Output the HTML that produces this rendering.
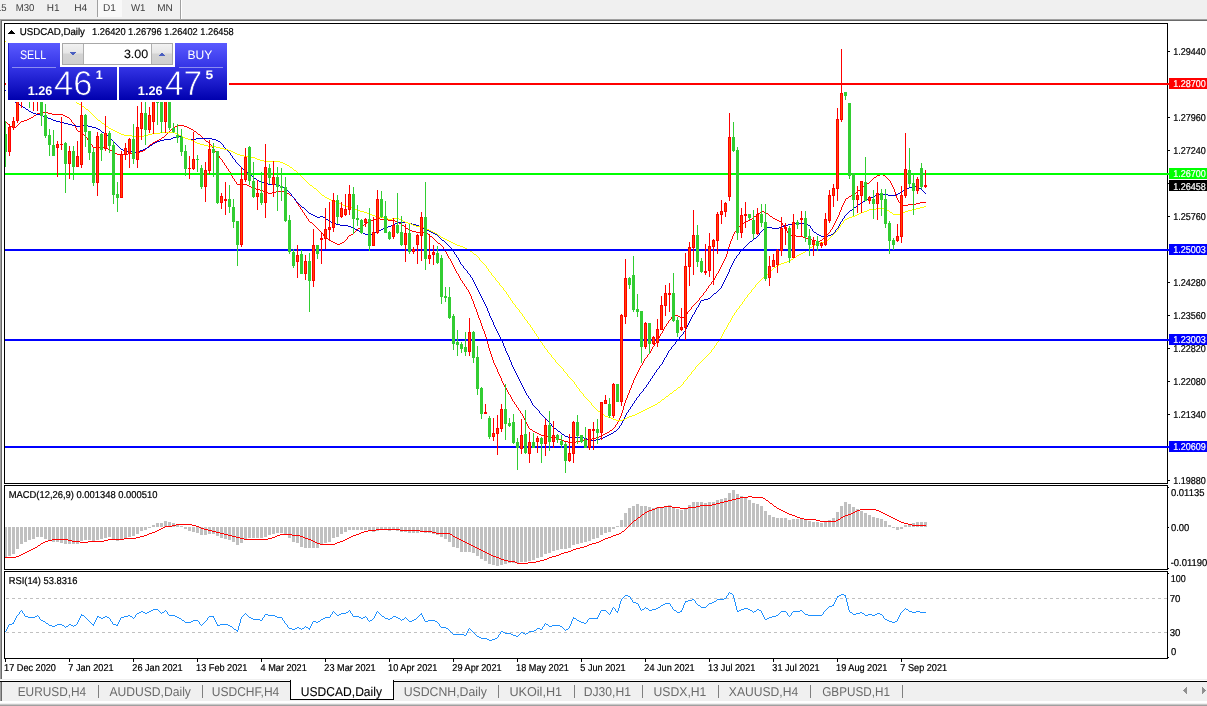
<!DOCTYPE html>
<html><head><meta charset="utf-8"><title>USDCAD,Daily</title>
<style>
html,body{margin:0;padding:0;background:#fff;overflow:hidden}
body{width:1207px;height:706px;position:relative}
svg{position:absolute;left:0;top:0;display:block}
text{font-family:"Liberation Sans", sans-serif;white-space:pre}
</style></head><body>
<svg width="1207" height="706" viewBox="0 0 1207 706" shape-rendering="crispEdges" text-rendering="geometricPrecision">
<rect x="0" y="0" width="1207" height="706" fill="#fff"/>
<rect x="0" y="0" width="1207" height="19" fill="#f0f0f0"/>
<rect x="0" y="19" width="1207" height="1" fill="#a0a0a0"/>
<rect x="0" y="20" width="1207" height="1" fill="#696969"/>
<rect x="0" y="19" width="1" height="661" fill="#a0a0a0"/>
<rect x="1" y="20" width="1" height="660" fill="#696969"/>
<rect x="98" y="0" width="24" height="17" fill="#f9f9f9"/>
<rect x="97" y="0" width="1" height="17" fill="#a0a0a0"/>
<rect x="180" y="0" width="1" height="19" fill="#a0a0a0"/>
<rect x="181" y="0" width="1" height="19" fill="#ffffff"/>
<rect x="4.5" y="23.5" width="1163" height="460" fill="none" stroke="#000" stroke-width="1"/>
<rect x="4.5" y="485.5" width="1163" height="84" fill="none" stroke="#000" stroke-width="1"/>
<rect x="4.5" y="571.5" width="1163" height="87" fill="none" stroke="#000" stroke-width="1"/>
<rect x="0" y="679" width="1207" height="1" fill="#f0f0f0"/>
<rect x="0" y="682" width="1207" height="19" fill="#f0f0f0"/>
<rect x="0" y="681" width="1207" height="1" fill="#000"/>
<rect x="0" y="682" width="1" height="19" fill="#a0a0a0"/>
<rect x="1" y="682" width="1" height="19" fill="#696969"/>
<rect x="0" y="701" width="1207" height="2" fill="#ffffff"/>
<rect x="0" y="703" width="1207" height="1" fill="#f0f0f0"/>
<rect x="0" y="704" width="1207" height="1" fill="#c8c8c8"/>
<rect x="0" y="705" width="1207" height="1" fill="#a0a0a0"/>
<rect x="290.5" y="680.5" width="103" height="19" fill="#fff" stroke="#000"/>
<rect x="291" y="679" width="102" height="3" fill="#fff"/>
<clipPath id="mainclip"><rect x="5" y="24" width="1162" height="459"/></clipPath>
<clipPath id="macdclip"><rect x="5" y="486" width="1162" height="83"/></clipPath>
<clipPath id="rsiclip"><rect x="5" y="572" width="1162" height="86"/></clipPath>
<g clip-path="url(#mainclip)">
<path d="M40 112h8v1h-8zM37 113h3v1h-3zM48 113h4v1h-4zM36 114h1v1h-1zM52 114h11v1h-11zM34 115h2v1h-2zM63 115h2v1h-2zM33 116h1v1h-1zM65 116h2v1h-2zM31 117h2v1h-2zM67 117h2v1h-2zM29 118h2v1h-2zM69 118h1v1h-1zM27 119h2v1h-2zM70 119h1v1h-1zM24 120h3v1h-3zM71 120h1v1h-1zM5 121h1v1h-1zM21 121h3v1h-3zM71 121h1v1h-1zM6 122h1v1h-1zM20 122h1v1h-1zM72 122h1v1h-1zM7 123h1v1h-1zM19 123h1v1h-1zM73 123h1v1h-1zM8 124h1v1h-1zM18 124h1v1h-1zM74 124h1v1h-1zM9 125h1v1h-1zM17 125h1v1h-1zM74 125h1v1h-1zM177 125h7v1h-7zM10 126h2v1h-2zM16 126h1v1h-1zM75 126h1v1h-1zM175 126h2v1h-2zM184 126h3v1h-3zM12 127h1v1h-1zM14 127h2v1h-2zM75 127h1v1h-1zM173 127h2v1h-2zM187 127h2v1h-2zM13 128h1v1h-1zM76 128h1v1h-1zM172 128h1v1h-1zM189 128h2v1h-2zM76 129h1v1h-1zM171 129h1v1h-1zM191 129h2v1h-2zM77 130h1v1h-1zM170 130h1v1h-1zM193 130h1v1h-1zM78 131h2v1h-2zM169 131h1v1h-1zM194 131h2v1h-2zM80 132h1v1h-1zM168 132h1v1h-1zM196 132h1v1h-1zM81 133h1v1h-1zM167 133h1v1h-1zM197 133h1v1h-1zM82 134h2v1h-2zM166 134h1v1h-1zM198 134h2v1h-2zM84 135h1v1h-1zM165 135h1v1h-1zM200 135h1v1h-1zM85 136h1v1h-1zM164 136h1v1h-1zM201 136h1v1h-1zM86 137h1v1h-1zM162 137h2v1h-2zM202 137h1v1h-1zM87 138h1v1h-1zM161 138h1v1h-1zM203 138h1v1h-1zM87 139h1v1h-1zM159 139h2v1h-2zM204 139h1v1h-1zM88 140h1v1h-1zM157 140h2v1h-2zM205 140h1v1h-1zM89 141h1v1h-1zM155 141h2v1h-2zM206 141h2v1h-2zM90 142h1v1h-1zM153 142h2v1h-2zM208 142h1v1h-1zM90 143h1v1h-1zM152 143h1v1h-1zM209 143h1v1h-1zM91 144h1v1h-1zM150 144h2v1h-2zM210 144h1v1h-1zM92 145h1v1h-1zM149 145h1v1h-1zM211 145h1v1h-1zM92 146h1v1h-1zM148 146h1v1h-1zM211 146h1v1h-1zM93 147h11v1h-11zM147 147h1v1h-1zM212 147h1v1h-1zM104 148h4v1h-4zM146 148h1v1h-1zM213 148h1v1h-1zM108 149h2v1h-2zM145 149h1v1h-1zM214 149h1v1h-1zM110 150h2v1h-2zM143 150h2v1h-2zM214 150h1v1h-1zM112 151h1v1h-1zM140 151h3v1h-3zM215 151h1v1h-1zM113 152h2v1h-2zM132 152h8v1h-8zM216 152h1v1h-1zM115 153h2v1h-2zM128 153h4v1h-4zM216 153h1v1h-1zM117 154h11v1h-11zM217 154h1v1h-1zM218 155h1v1h-1zM219 156h1v1h-1zM219 157h1v1h-1zM220 158h1v1h-1zM221 159h1v1h-1zM222 160h1v1h-1zM222 161h1v1h-1zM223 162h1v1h-1zM224 163h1v1h-1zM224 164h1v1h-1zM225 165h1v1h-1zM226 166h1v1h-1zM226 167h1v1h-1zM227 168h1v1h-1zM228 169h1v1h-1zM228 170h1v1h-1zM229 171h1v1h-1zM230 172h1v1h-1zM230 173h1v1h-1zM231 174h1v1h-1zM880 174h3v1h-3zM231 175h1v1h-1zM877 175h3v1h-3zM883 175h2v1h-2zM232 176h1v1h-1zM876 176h1v1h-1zM885 176h1v1h-1zM232 177h1v1h-1zM874 177h2v1h-2zM886 177h1v1h-1zM233 178h1v1h-1zM873 178h1v1h-1zM887 178h1v1h-1zM234 179h1v1h-1zM872 179h1v1h-1zM888 179h1v1h-1zM234 180h1v1h-1zM871 180h1v1h-1zM889 180h1v1h-1zM235 181h1v1h-1zM870 181h1v1h-1zM890 181h1v1h-1zM236 182h1v1h-1zM869 182h1v1h-1zM890 182h1v1h-1zM236 183h1v1h-1zM867 183h2v1h-2zM891 183h1v1h-1zM237 184h10v1h-10zM865 184h2v1h-2zM891 184h1v1h-1zM247 185h2v1h-2zM864 185h1v1h-1zM892 185h1v1h-1zM249 186h2v1h-2zM863 186h1v1h-1zM892 186h1v1h-1zM251 187h2v1h-2zM862 187h1v1h-1zM893 187h1v1h-1zM253 188h3v1h-3zM861 188h1v1h-1zM893 188h1v1h-1zM256 189h4v1h-4zM860 189h1v1h-1zM894 189h1v1h-1zM260 190h3v1h-3zM858 190h2v1h-2zM894 190h1v1h-1zM263 191h2v1h-2zM276 191h8v1h-8zM857 191h1v1h-1zM894 191h1v1h-1zM265 192h3v1h-3zM272 192h4v1h-4zM284 192h3v1h-3zM856 192h1v1h-1zM895 192h1v1h-1zM268 193h4v1h-4zM287 193h2v1h-2zM854 193h2v1h-2zM895 193h1v1h-1zM289 194h1v1h-1zM853 194h1v1h-1zM895 194h1v1h-1zM290 195h2v1h-2zM851 195h2v1h-2zM896 195h1v1h-1zM292 196h1v1h-1zM849 196h2v1h-2zM896 196h1v1h-1zM293 197h1v1h-1zM848 197h1v1h-1zM896 197h1v1h-1zM294 198h1v1h-1zM846 198h2v1h-2zM897 198h1v1h-1zM294 199h1v1h-1zM845 199h1v1h-1zM897 199h1v1h-1zM295 200h1v1h-1zM845 200h1v1h-1zM898 200h1v1h-1zM296 201h1v1h-1zM844 201h1v1h-1zM898 201h1v1h-1zM296 202h1v1h-1zM844 202h1v1h-1zM899 202h1v1h-1zM920 202h6v1h-6zM297 203h1v1h-1zM843 203h1v1h-1zM900 203h1v1h-1zM916 203h4v1h-4zM298 204h1v1h-1zM843 204h1v1h-1zM900 204h1v1h-1zM908 204h8v1h-8zM298 205h1v1h-1zM842 205h1v1h-1zM901 205h7v1h-7zM299 206h1v1h-1zM842 206h1v1h-1zM300 207h1v1h-1zM841 207h1v1h-1zM300 208h1v1h-1zM841 208h1v1h-1zM301 209h1v1h-1zM841 209h1v1h-1zM302 210h1v1h-1zM840 210h1v1h-1zM302 211h1v1h-1zM761 211h3v1h-3zM840 211h1v1h-1zM303 212h1v1h-1zM760 212h1v1h-1zM764 212h2v1h-2zM839 212h1v1h-1zM304 213h1v1h-1zM758 213h2v1h-2zM766 213h2v1h-2zM839 213h1v1h-1zM304 214h1v1h-1zM757 214h1v1h-1zM768 214h1v1h-1zM839 214h1v1h-1zM305 215h1v1h-1zM756 215h1v1h-1zM769 215h1v1h-1zM838 215h1v1h-1zM306 216h1v1h-1zM754 216h2v1h-2zM770 216h2v1h-2zM838 216h1v1h-1zM306 217h1v1h-1zM753 217h1v1h-1zM772 217h1v1h-1zM837 217h1v1h-1zM307 218h1v1h-1zM376 218h4v1h-4zM752 218h1v1h-1zM773 218h2v1h-2zM837 218h1v1h-1zM308 219h1v1h-1zM373 219h3v1h-3zM380 219h8v1h-8zM750 219h2v1h-2zM775 219h2v1h-2zM836 219h1v1h-1zM308 220h1v1h-1zM371 220h2v1h-2zM388 220h7v1h-7zM748 220h2v1h-2zM777 220h2v1h-2zM836 220h1v1h-1zM309 221h1v1h-1zM369 221h2v1h-2zM395 221h2v1h-2zM745 221h3v1h-3zM779 221h2v1h-2zM835 221h1v1h-1zM310 222h2v1h-2zM367 222h2v1h-2zM397 222h2v1h-2zM744 222h1v1h-1zM781 222h1v1h-1zM835 222h1v1h-1zM312 223h1v1h-1zM365 223h2v1h-2zM399 223h2v1h-2zM742 223h2v1h-2zM782 223h1v1h-1zM834 223h1v1h-1zM313 224h1v1h-1zM364 224h1v1h-1zM401 224h1v1h-1zM741 224h1v1h-1zM782 224h1v1h-1zM834 224h1v1h-1zM314 225h1v1h-1zM362 225h2v1h-2zM402 225h2v1h-2zM740 225h1v1h-1zM783 225h1v1h-1zM833 225h1v1h-1zM315 226h1v1h-1zM361 226h1v1h-1zM404 226h1v1h-1zM739 226h1v1h-1zM784 226h1v1h-1zM833 226h1v1h-1zM316 227h1v1h-1zM360 227h1v1h-1zM405 227h1v1h-1zM738 227h1v1h-1zM784 227h1v1h-1zM832 227h1v1h-1zM317 228h1v1h-1zM358 228h2v1h-2zM406 228h2v1h-2zM737 228h1v1h-1zM785 228h1v1h-1zM832 228h1v1h-1zM318 229h1v1h-1zM357 229h1v1h-1zM408 229h1v1h-1zM736 229h1v1h-1zM786 229h1v1h-1zM831 229h1v1h-1zM319 230h1v1h-1zM356 230h1v1h-1zM409 230h3v1h-3zM736 230h1v1h-1zM786 230h1v1h-1zM830 230h1v1h-1zM320 231h1v1h-1zM355 231h1v1h-1zM412 231h4v1h-4zM735 231h1v1h-1zM787 231h1v1h-1zM830 231h1v1h-1zM321 232h1v1h-1zM354 232h1v1h-1zM416 232h10v1h-10zM734 232h1v1h-1zM787 232h1v1h-1zM829 232h1v1h-1zM322 233h1v1h-1zM353 233h1v1h-1zM426 233h2v1h-2zM734 233h1v1h-1zM788 233h1v1h-1zM828 233h1v1h-1zM323 234h1v1h-1zM351 234h2v1h-2zM428 234h1v1h-1zM733 234h1v1h-1zM788 234h1v1h-1zM827 234h1v1h-1zM323 235h1v1h-1zM349 235h2v1h-2zM429 235h1v1h-1zM733 235h1v1h-1zM789 235h7v1h-7zM826 235h1v1h-1zM324 236h1v1h-1zM348 236h1v1h-1zM430 236h2v1h-2zM732 236h1v1h-1zM796 236h7v1h-7zM825 236h1v1h-1zM325 237h1v1h-1zM347 237h1v1h-1zM432 237h1v1h-1zM732 237h1v1h-1zM803 237h2v1h-2zM824 237h1v1h-1zM326 238h2v1h-2zM347 238h1v1h-1zM433 238h1v1h-1zM732 238h1v1h-1zM805 238h3v1h-3zM823 238h1v1h-1zM328 239h1v1h-1zM346 239h1v1h-1zM434 239h1v1h-1zM731 239h1v1h-1zM808 239h4v1h-4zM822 239h1v1h-1zM329 240h2v1h-2zM345 240h1v1h-1zM435 240h1v1h-1zM731 240h1v1h-1zM812 240h4v1h-4zM820 240h2v1h-2zM331 241h2v1h-2zM344 241h1v1h-1zM436 241h1v1h-1zM730 241h1v1h-1zM816 241h4v1h-4zM333 242h2v1h-2zM342 242h2v1h-2zM437 242h1v1h-1zM730 242h1v1h-1zM335 243h2v1h-2zM340 243h2v1h-2zM438 243h2v1h-2zM730 243h1v1h-1zM337 244h3v1h-3zM440 244h1v1h-1zM729 244h1v1h-1zM441 245h1v1h-1zM729 245h1v1h-1zM442 246h1v1h-1zM729 246h1v1h-1zM443 247h1v1h-1zM728 247h1v1h-1zM443 248h1v1h-1zM728 248h1v1h-1zM444 249h1v1h-1zM728 249h1v1h-1zM445 250h1v1h-1zM727 250h1v1h-1zM445 251h1v1h-1zM727 251h1v1h-1zM446 252h1v1h-1zM727 252h1v1h-1zM446 253h1v1h-1zM727 253h1v1h-1zM447 254h1v1h-1zM726 254h1v1h-1zM447 255h1v1h-1zM726 255h1v1h-1zM448 256h1v1h-1zM726 256h1v1h-1zM448 257h1v1h-1zM725 257h1v1h-1zM449 258h1v1h-1zM725 258h1v1h-1zM450 259h1v1h-1zM724 259h1v1h-1zM450 260h1v1h-1zM724 260h1v1h-1zM451 261h1v1h-1zM723 261h1v1h-1zM451 262h1v1h-1zM723 262h1v1h-1zM452 263h1v1h-1zM722 263h1v1h-1zM452 264h1v1h-1zM722 264h1v1h-1zM453 265h1v1h-1zM721 265h1v1h-1zM453 266h1v1h-1zM721 266h1v1h-1zM454 267h1v1h-1zM720 267h1v1h-1zM454 268h1v1h-1zM720 268h1v1h-1zM455 269h1v1h-1zM719 269h1v1h-1zM455 270h1v1h-1zM719 270h1v1h-1zM456 271h1v1h-1zM718 271h1v1h-1zM456 272h1v1h-1zM718 272h1v1h-1zM457 273h1v1h-1zM717 273h1v1h-1zM458 274h1v1h-1zM716 274h1v1h-1zM458 275h1v1h-1zM716 275h1v1h-1zM459 276h1v1h-1zM715 276h1v1h-1zM459 277h1v1h-1zM715 277h1v1h-1zM460 278h1v1h-1zM714 278h1v1h-1zM460 279h1v1h-1zM714 279h1v1h-1zM461 280h1v1h-1zM713 280h1v1h-1zM462 281h1v1h-1zM712 281h1v1h-1zM462 282h1v1h-1zM711 282h1v1h-1zM463 283h1v1h-1zM711 283h1v1h-1zM464 284h1v1h-1zM710 284h1v1h-1zM464 285h1v1h-1zM709 285h1v1h-1zM465 286h1v1h-1zM708 286h1v1h-1zM466 287h1v1h-1zM708 287h1v1h-1zM466 288h1v1h-1zM707 288h1v1h-1zM467 289h1v1h-1zM706 289h1v1h-1zM468 290h1v1h-1zM706 290h1v1h-1zM468 291h1v1h-1zM705 291h1v1h-1zM469 292h1v1h-1zM704 292h1v1h-1zM469 293h1v1h-1zM703 293h1v1h-1zM470 294h1v1h-1zM703 294h1v1h-1zM470 295h1v1h-1zM702 295h1v1h-1zM471 296h1v1h-1zM701 296h1v1h-1zM471 297h1v1h-1zM700 297h1v1h-1zM471 298h1v1h-1zM699 298h1v1h-1zM472 299h1v1h-1zM699 299h1v1h-1zM472 300h1v1h-1zM698 300h1v1h-1zM473 301h1v1h-1zM697 301h1v1h-1zM473 302h1v1h-1zM696 302h1v1h-1zM473 303h1v1h-1zM695 303h1v1h-1zM474 304h1v1h-1zM694 304h1v1h-1zM474 305h1v1h-1zM693 305h1v1h-1zM474 306h1v1h-1zM692 306h1v1h-1zM475 307h1v1h-1zM691 307h1v1h-1zM475 308h1v1h-1zM691 308h1v1h-1zM476 309h1v1h-1zM690 309h1v1h-1zM476 310h1v1h-1zM689 310h1v1h-1zM476 311h1v1h-1zM688 311h1v1h-1zM477 312h1v1h-1zM687 312h1v1h-1zM477 313h1v1h-1zM687 313h1v1h-1zM477 314h1v1h-1zM686 314h1v1h-1zM478 315h1v1h-1zM673 315h5v1h-5zM685 315h1v1h-1zM478 316h1v1h-1zM672 316h1v1h-1zM678 316h2v1h-2zM684 316h1v1h-1zM478 317h1v1h-1zM671 317h1v1h-1zM680 317h1v1h-1zM682 317h2v1h-2zM479 318h1v1h-1zM671 318h1v1h-1zM681 318h1v1h-1zM479 319h1v1h-1zM670 319h1v1h-1zM480 320h1v1h-1zM669 320h1v1h-1zM480 321h1v1h-1zM668 321h1v1h-1zM480 322h1v1h-1zM668 322h1v1h-1zM481 323h1v1h-1zM667 323h1v1h-1zM481 324h1v1h-1zM666 324h1v1h-1zM481 325h1v1h-1zM666 325h1v1h-1zM482 326h1v1h-1zM665 326h1v1h-1zM482 327h1v1h-1zM664 327h1v1h-1zM482 328h1v1h-1zM664 328h1v1h-1zM483 329h1v1h-1zM663 329h1v1h-1zM483 330h1v1h-1zM663 330h1v1h-1zM484 331h1v1h-1zM662 331h1v1h-1zM484 332h1v1h-1zM662 332h1v1h-1zM484 333h1v1h-1zM661 333h1v1h-1zM485 334h1v1h-1zM660 334h1v1h-1zM485 335h1v1h-1zM660 335h1v1h-1zM485 336h1v1h-1zM659 336h1v1h-1zM486 337h1v1h-1zM659 337h1v1h-1zM486 338h1v1h-1zM658 338h1v1h-1zM486 339h1v1h-1zM658 339h1v1h-1zM486 340h1v1h-1zM657 340h1v1h-1zM487 341h1v1h-1zM656 341h1v1h-1zM487 342h1v1h-1zM656 342h1v1h-1zM487 343h1v1h-1zM655 343h1v1h-1zM488 344h1v1h-1zM654 344h1v1h-1zM488 345h1v1h-1zM654 345h1v1h-1zM488 346h1v1h-1zM653 346h1v1h-1zM488 347h1v1h-1zM652 347h1v1h-1zM489 348h1v1h-1zM652 348h1v1h-1zM489 349h1v1h-1zM651 349h1v1h-1zM489 350h1v1h-1zM651 350h1v1h-1zM490 351h1v1h-1zM650 351h1v1h-1zM490 352h1v1h-1zM650 352h1v1h-1zM490 353h1v1h-1zM649 353h1v1h-1zM491 354h1v1h-1zM648 354h1v1h-1zM491 355h1v1h-1zM647 355h1v1h-1zM491 356h1v1h-1zM647 356h1v1h-1zM492 357h1v1h-1zM646 357h1v1h-1zM492 358h1v1h-1zM645 358h1v1h-1zM492 359h1v1h-1zM644 359h1v1h-1zM493 360h1v1h-1zM644 360h1v1h-1zM493 361h1v1h-1zM643 361h1v1h-1zM493 362h1v1h-1zM643 362h1v1h-1zM494 363h1v1h-1zM642 363h1v1h-1zM494 364h1v1h-1zM642 364h1v1h-1zM495 365h1v1h-1zM641 365h1v1h-1zM495 366h1v1h-1zM640 366h1v1h-1zM496 367h1v1h-1zM640 367h1v1h-1zM496 368h1v1h-1zM639 368h1v1h-1zM497 369h1v1h-1zM639 369h1v1h-1zM497 370h1v1h-1zM638 370h1v1h-1zM497 371h1v1h-1zM638 371h1v1h-1zM498 372h1v1h-1zM637 372h1v1h-1zM498 373h1v1h-1zM637 373h1v1h-1zM499 374h1v1h-1zM636 374h1v1h-1zM499 375h1v1h-1zM636 375h1v1h-1zM500 376h1v1h-1zM635 376h1v1h-1zM500 377h1v1h-1zM635 377h1v1h-1zM501 378h1v1h-1zM634 378h1v1h-1zM501 379h1v1h-1zM634 379h1v1h-1zM501 380h1v1h-1zM633 380h1v1h-1zM502 381h1v1h-1zM633 381h1v1h-1zM502 382h1v1h-1zM633 382h1v1h-1zM503 383h1v1h-1zM632 383h1v1h-1zM503 384h1v1h-1zM632 384h1v1h-1zM504 385h1v1h-1zM631 385h1v1h-1zM504 386h1v1h-1zM631 386h1v1h-1zM505 387h1v1h-1zM631 387h1v1h-1zM506 388h1v1h-1zM630 388h1v1h-1zM506 389h1v1h-1zM630 389h1v1h-1zM507 390h1v1h-1zM629 390h1v1h-1zM507 391h1v1h-1zM629 391h1v1h-1zM508 392h1v1h-1zM629 392h1v1h-1zM508 393h1v1h-1zM628 393h1v1h-1zM509 394h1v1h-1zM628 394h1v1h-1zM510 395h1v1h-1zM627 395h1v1h-1zM510 396h1v1h-1zM627 396h1v1h-1zM511 397h1v1h-1zM627 397h1v1h-1zM511 398h1v1h-1zM626 398h1v1h-1zM512 399h1v1h-1zM626 399h1v1h-1zM512 400h1v1h-1zM625 400h1v1h-1zM513 401h1v1h-1zM625 401h1v1h-1zM514 402h1v1h-1zM625 402h1v1h-1zM514 403h1v1h-1zM624 403h1v1h-1zM515 404h1v1h-1zM624 404h1v1h-1zM516 405h1v1h-1zM624 405h1v1h-1zM516 406h1v1h-1zM623 406h1v1h-1zM517 407h1v1h-1zM623 407h1v1h-1zM518 408h1v1h-1zM623 408h1v1h-1zM518 409h1v1h-1zM623 409h1v1h-1zM519 410h1v1h-1zM622 410h1v1h-1zM520 411h1v1h-1zM622 411h1v1h-1zM520 412h1v1h-1zM622 412h1v1h-1zM521 413h1v1h-1zM621 413h1v1h-1zM522 414h1v1h-1zM621 414h1v1h-1zM522 415h1v1h-1zM621 415h1v1h-1zM523 416h1v1h-1zM620 416h1v1h-1zM523 417h1v1h-1zM620 417h1v1h-1zM524 418h1v1h-1zM619 418h1v1h-1zM524 419h1v1h-1zM619 419h1v1h-1zM525 420h1v1h-1zM618 420h1v1h-1zM525 421h1v1h-1zM618 421h1v1h-1zM526 422h1v1h-1zM617 422h1v1h-1zM526 423h1v1h-1zM617 423h1v1h-1zM527 424h1v1h-1zM616 424h1v1h-1zM527 425h1v1h-1zM615 425h1v1h-1zM528 426h1v1h-1zM615 426h1v1h-1zM528 427h1v1h-1zM614 427h1v1h-1zM529 428h1v1h-1zM613 428h1v1h-1zM530 429h2v1h-2zM612 429h1v1h-1zM532 430h1v1h-1zM610 430h2v1h-2zM533 431h2v1h-2zM609 431h1v1h-1zM535 432h2v1h-2zM607 432h2v1h-2zM537 433h2v1h-2zM605 433h2v1h-2zM539 434h2v1h-2zM603 434h2v1h-2zM541 435h3v1h-3zM601 435h2v1h-2zM544 436h4v1h-4zM599 436h2v1h-2zM548 437h8v1h-8zM596 437h3v1h-3zM556 438h3v1h-3zM592 438h4v1h-4zM559 439h2v1h-2zM584 439h8v1h-8zM561 440h3v1h-3zM580 440h4v1h-4zM564 441h4v1h-4zM576 441h4v1h-4zM568 442h8v1h-8z" fill="#ff0000"/>
<path d="M5 90h1v1h-1zM6 91h1v1h-1zM7 92h1v1h-1zM7 93h1v1h-1zM8 94h1v1h-1zM9 95h1v1h-1zM10 96h1v1h-1zM10 97h1v1h-1zM11 98h1v1h-1zM12 99h1v1h-1zM12 100h1v1h-1zM13 101h2v1h-2zM15 102h2v1h-2zM17 103h1v1h-1zM18 104h2v1h-2zM20 105h1v1h-1zM21 106h2v1h-2zM23 107h2v1h-2zM25 108h1v1h-1zM26 109h2v1h-2zM28 110h1v1h-1zM29 111h2v1h-2zM31 112h2v1h-2zM33 113h3v1h-3zM36 114h4v1h-4zM40 115h3v1h-3zM43 116h2v1h-2zM45 117h3v1h-3zM48 118h3v1h-3zM51 119h2v1h-2zM53 120h3v1h-3zM56 121h4v1h-4zM60 122h4v1h-4zM64 123h4v1h-4zM68 124h4v1h-4zM72 125h4v1h-4zM80 125h8v1h-8zM76 126h4v1h-4zM88 126h4v1h-4zM92 127h4v1h-4zM96 128h2v1h-2zM98 129h2v1h-2zM100 130h1v1h-1zM101 131h1v1h-1zM102 132h2v1h-2zM104 133h1v1h-1zM105 134h1v1h-1zM106 135h2v1h-2zM108 136h1v1h-1zM176 136h7v1h-7zM109 137h1v1h-1zM173 137h3v1h-3zM183 137h2v1h-2zM110 138h1v1h-1zM171 138h2v1h-2zM185 138h3v1h-3zM196 138h16v1h-16zM111 139h1v1h-1zM164 139h7v1h-7zM188 139h8v1h-8zM212 139h4v1h-4zM112 140h1v1h-1zM160 140h4v1h-4zM216 140h2v1h-2zM113 141h1v1h-1zM157 141h3v1h-3zM218 141h2v1h-2zM114 142h1v1h-1zM155 142h2v1h-2zM220 142h1v1h-1zM115 143h1v1h-1zM153 143h2v1h-2zM221 143h1v1h-1zM116 144h1v1h-1zM152 144h1v1h-1zM222 144h1v1h-1zM117 145h1v1h-1zM150 145h2v1h-2zM223 145h1v1h-1zM118 146h1v1h-1zM149 146h1v1h-1zM223 146h1v1h-1zM119 147h1v1h-1zM147 147h2v1h-2zM224 147h1v1h-1zM120 148h1v1h-1zM145 148h2v1h-2zM225 148h1v1h-1zM121 149h2v1h-2zM143 149h2v1h-2zM226 149h1v1h-1zM123 150h2v1h-2zM140 150h3v1h-3zM227 150h1v1h-1zM125 151h7v1h-7zM136 151h4v1h-4zM228 151h1v1h-1zM132 152h4v1h-4zM229 152h1v1h-1zM230 153h1v1h-1zM230 154h1v1h-1zM231 155h1v1h-1zM232 156h1v1h-1zM232 157h1v1h-1zM233 158h1v1h-1zM234 159h1v1h-1zM235 160h1v1h-1zM235 161h1v1h-1zM236 162h1v1h-1zM237 163h1v1h-1zM238 164h1v1h-1zM239 165h1v1h-1zM240 166h1v1h-1zM241 167h1v1h-1zM242 168h1v1h-1zM243 169h1v1h-1zM244 170h1v1h-1zM245 171h1v1h-1zM246 172h2v1h-2zM248 173h1v1h-1zM249 174h1v1h-1zM250 175h2v1h-2zM252 176h1v1h-1zM253 177h1v1h-1zM254 178h2v1h-2zM256 179h1v1h-1zM257 180h2v1h-2zM259 181h2v1h-2zM261 182h3v1h-3zM264 183h4v1h-4zM268 184h8v1h-8zM276 185h4v1h-4zM280 186h2v1h-2zM912 186h4v1h-4zM282 187h2v1h-2zM909 187h3v1h-3zM916 187h3v1h-3zM284 188h1v1h-1zM907 188h2v1h-2zM919 188h2v1h-2zM285 189h1v1h-1zM905 189h2v1h-2zM921 189h1v1h-1zM286 190h2v1h-2zM903 190h2v1h-2zM922 190h1v1h-1zM288 191h1v1h-1zM901 191h2v1h-2zM923 191h1v1h-1zM289 192h1v1h-1zM900 192h1v1h-1zM924 192h1v1h-1zM290 193h1v1h-1zM898 193h2v1h-2zM925 193h1v1h-1zM291 194h1v1h-1zM877 194h11v1h-11zM896 194h2v1h-2zM291 195h1v1h-1zM875 195h2v1h-2zM888 195h8v1h-8zM292 196h1v1h-1zM873 196h2v1h-2zM293 197h1v1h-1zM871 197h2v1h-2zM294 198h1v1h-1zM869 198h2v1h-2zM295 199h1v1h-1zM867 199h2v1h-2zM295 200h1v1h-1zM865 200h2v1h-2zM296 201h1v1h-1zM863 201h2v1h-2zM297 202h1v1h-1zM861 202h2v1h-2zM298 203h1v1h-1zM860 203h1v1h-1zM299 204h1v1h-1zM858 204h2v1h-2zM300 205h1v1h-1zM857 205h1v1h-1zM301 206h1v1h-1zM856 206h1v1h-1zM302 207h2v1h-2zM854 207h2v1h-2zM304 208h1v1h-1zM853 208h1v1h-1zM305 209h1v1h-1zM852 209h1v1h-1zM306 210h1v1h-1zM850 210h2v1h-2zM307 211h1v1h-1zM849 211h1v1h-1zM308 212h1v1h-1zM848 212h1v1h-1zM309 213h2v1h-2zM847 213h1v1h-1zM311 214h2v1h-2zM846 214h1v1h-1zM313 215h2v1h-2zM845 215h1v1h-1zM315 216h2v1h-2zM320 216h3v1h-3zM844 216h1v1h-1zM317 217h3v1h-3zM323 217h2v1h-2zM844 217h1v1h-1zM325 218h1v1h-1zM843 218h1v1h-1zM326 219h2v1h-2zM842 219h1v1h-1zM328 220h1v1h-1zM842 220h1v1h-1zM329 221h2v1h-2zM841 221h1v1h-1zM331 222h2v1h-2zM397 222h11v1h-11zM840 222h1v1h-1zM333 223h3v1h-3zM395 223h2v1h-2zM408 223h4v1h-4zM792 223h12v1h-12zM840 223h1v1h-1zM336 224h4v1h-4zM393 224h2v1h-2zM412 224h4v1h-4zM788 224h4v1h-4zM804 224h4v1h-4zM839 224h1v1h-1zM340 225h8v1h-8zM391 225h2v1h-2zM416 225h3v1h-3zM784 225h4v1h-4zM808 225h2v1h-2zM839 225h1v1h-1zM348 226h3v1h-3zM388 226h3v1h-3zM419 226h2v1h-2zM781 226h3v1h-3zM810 226h1v1h-1zM838 226h1v1h-1zM351 227h2v1h-2zM385 227h3v1h-3zM421 227h2v1h-2zM765 227h7v1h-7zM779 227h2v1h-2zM810 227h1v1h-1zM838 227h1v1h-1zM353 228h2v1h-2zM383 228h2v1h-2zM423 228h2v1h-2zM764 228h1v1h-1zM772 228h7v1h-7zM811 228h1v1h-1zM837 228h1v1h-1zM355 229h2v1h-2zM381 229h2v1h-2zM425 229h2v1h-2zM763 229h1v1h-1zM812 229h1v1h-1zM836 229h1v1h-1zM357 230h2v1h-2zM379 230h2v1h-2zM427 230h2v1h-2zM762 230h1v1h-1zM812 230h1v1h-1zM835 230h1v1h-1zM359 231h2v1h-2zM377 231h2v1h-2zM429 231h2v1h-2zM761 231h1v1h-1zM813 231h1v1h-1zM835 231h1v1h-1zM361 232h2v1h-2zM375 232h2v1h-2zM431 232h2v1h-2zM760 232h1v1h-1zM814 232h2v1h-2zM834 232h1v1h-1zM363 233h2v1h-2zM372 233h3v1h-3zM433 233h2v1h-2zM759 233h1v1h-1zM816 233h1v1h-1zM833 233h1v1h-1zM365 234h7v1h-7zM435 234h2v1h-2zM759 234h1v1h-1zM817 234h2v1h-2zM831 234h2v1h-2zM437 235h1v1h-1zM758 235h1v1h-1zM819 235h2v1h-2zM828 235h3v1h-3zM438 236h1v1h-1zM757 236h1v1h-1zM821 236h7v1h-7zM439 237h1v1h-1zM756 237h1v1h-1zM440 238h1v1h-1zM754 238h2v1h-2zM441 239h1v1h-1zM753 239h1v1h-1zM442 240h2v1h-2zM752 240h1v1h-1zM444 241h1v1h-1zM750 241h2v1h-2zM445 242h1v1h-1zM749 242h1v1h-1zM446 243h1v1h-1zM748 243h1v1h-1zM447 244h1v1h-1zM747 244h1v1h-1zM448 245h1v1h-1zM746 245h1v1h-1zM449 246h1v1h-1zM745 246h1v1h-1zM450 247h1v1h-1zM744 247h1v1h-1zM451 248h1v1h-1zM743 248h1v1h-1zM451 249h1v1h-1zM742 249h1v1h-1zM452 250h1v1h-1zM741 250h1v1h-1zM453 251h1v1h-1zM740 251h1v1h-1zM454 252h1v1h-1zM739 252h1v1h-1zM454 253h1v1h-1zM739 253h1v1h-1zM455 254h1v1h-1zM738 254h1v1h-1zM456 255h1v1h-1zM737 255h1v1h-1zM456 256h1v1h-1zM736 256h1v1h-1zM457 257h1v1h-1zM736 257h1v1h-1zM458 258h1v1h-1zM735 258h1v1h-1zM458 259h1v1h-1zM734 259h1v1h-1zM459 260h1v1h-1zM734 260h1v1h-1zM459 261h1v1h-1zM733 261h1v1h-1zM460 262h1v1h-1zM733 262h1v1h-1zM460 263h1v1h-1zM732 263h1v1h-1zM461 264h1v1h-1zM732 264h1v1h-1zM462 265h1v1h-1zM731 265h1v1h-1zM463 266h1v1h-1zM731 266h1v1h-1zM463 267h1v1h-1zM730 267h1v1h-1zM464 268h1v1h-1zM730 268h1v1h-1zM465 269h1v1h-1zM729 269h1v1h-1zM466 270h1v1h-1zM729 270h1v1h-1zM467 271h1v1h-1zM729 271h1v1h-1zM467 272h1v1h-1zM728 272h1v1h-1zM468 273h1v1h-1zM728 273h1v1h-1zM469 274h1v1h-1zM727 274h1v1h-1zM470 275h1v1h-1zM727 275h1v1h-1zM470 276h1v1h-1zM726 276h1v1h-1zM471 277h1v1h-1zM726 277h1v1h-1zM472 278h1v1h-1zM725 278h1v1h-1zM472 279h1v1h-1zM725 279h1v1h-1zM473 280h1v1h-1zM724 280h1v1h-1zM473 281h1v1h-1zM724 281h1v1h-1zM474 282h1v1h-1zM723 282h1v1h-1zM474 283h1v1h-1zM723 283h1v1h-1zM475 284h1v1h-1zM722 284h1v1h-1zM475 285h1v1h-1zM722 285h1v1h-1zM476 286h1v1h-1zM721 286h1v1h-1zM476 287h1v1h-1zM721 287h1v1h-1zM477 288h1v1h-1zM720 288h1v1h-1zM477 289h1v1h-1zM719 289h1v1h-1zM478 290h1v1h-1zM718 290h1v1h-1zM478 291h1v1h-1zM717 291h1v1h-1zM479 292h1v1h-1zM716 292h1v1h-1zM479 293h1v1h-1zM714 293h2v1h-2zM480 294h1v1h-1zM713 294h1v1h-1zM480 295h1v1h-1zM712 295h1v1h-1zM481 296h1v1h-1zM711 296h1v1h-1zM481 297h1v1h-1zM710 297h1v1h-1zM482 298h1v1h-1zM708 298h2v1h-2zM482 299h1v1h-1zM704 299h4v1h-4zM483 300h1v1h-1zM701 300h3v1h-3zM483 301h1v1h-1zM700 301h1v1h-1zM484 302h1v1h-1zM700 302h1v1h-1zM484 303h1v1h-1zM699 303h1v1h-1zM485 304h1v1h-1zM699 304h1v1h-1zM485 305h1v1h-1zM698 305h1v1h-1zM486 306h1v1h-1zM698 306h1v1h-1zM486 307h1v1h-1zM697 307h1v1h-1zM487 308h1v1h-1zM696 308h1v1h-1zM487 309h1v1h-1zM696 309h1v1h-1zM487 310h1v1h-1zM695 310h1v1h-1zM488 311h1v1h-1zM695 311h1v1h-1zM488 312h1v1h-1zM694 312h1v1h-1zM489 313h1v1h-1zM694 313h1v1h-1zM489 314h1v1h-1zM693 314h1v1h-1zM489 315h1v1h-1zM692 315h1v1h-1zM490 316h1v1h-1zM692 316h1v1h-1zM490 317h1v1h-1zM691 317h1v1h-1zM491 318h1v1h-1zM691 318h1v1h-1zM491 319h1v1h-1zM690 319h1v1h-1zM492 320h1v1h-1zM690 320h1v1h-1zM492 321h1v1h-1zM689 321h1v1h-1zM493 322h1v1h-1zM689 322h1v1h-1zM493 323h1v1h-1zM688 323h1v1h-1zM493 324h1v1h-1zM688 324h1v1h-1zM494 325h1v1h-1zM687 325h1v1h-1zM494 326h1v1h-1zM687 326h1v1h-1zM495 327h1v1h-1zM686 327h1v1h-1zM495 328h1v1h-1zM686 328h1v1h-1zM496 329h1v1h-1zM685 329h1v1h-1zM496 330h1v1h-1zM685 330h1v1h-1zM497 331h1v1h-1zM684 331h1v1h-1zM497 332h1v1h-1zM683 332h1v1h-1zM498 333h1v1h-1zM683 333h1v1h-1zM498 334h1v1h-1zM682 334h1v1h-1zM499 335h1v1h-1zM681 335h1v1h-1zM499 336h1v1h-1zM680 336h1v1h-1zM500 337h1v1h-1zM679 337h1v1h-1zM500 338h1v1h-1zM679 338h1v1h-1zM501 339h1v1h-1zM678 339h1v1h-1zM501 340h1v1h-1zM677 340h1v1h-1zM502 341h1v1h-1zM676 341h1v1h-1zM502 342h1v1h-1zM675 342h1v1h-1zM503 343h1v1h-1zM675 343h1v1h-1zM503 344h1v1h-1zM674 344h1v1h-1zM503 345h1v1h-1zM673 345h1v1h-1zM504 346h1v1h-1zM672 346h1v1h-1zM504 347h1v1h-1zM671 347h1v1h-1zM505 348h1v1h-1zM671 348h1v1h-1zM505 349h1v1h-1zM670 349h1v1h-1zM505 350h1v1h-1zM669 350h1v1h-1zM506 351h1v1h-1zM668 351h1v1h-1zM506 352h1v1h-1zM668 352h1v1h-1zM507 353h1v1h-1zM667 353h1v1h-1zM507 354h1v1h-1zM667 354h1v1h-1zM508 355h1v1h-1zM666 355h1v1h-1zM508 356h1v1h-1zM666 356h1v1h-1zM509 357h1v1h-1zM665 357h1v1h-1zM509 358h1v1h-1zM664 358h1v1h-1zM509 359h1v1h-1zM664 359h1v1h-1zM510 360h1v1h-1zM663 360h1v1h-1zM510 361h1v1h-1zM663 361h1v1h-1zM511 362h1v1h-1zM662 362h1v1h-1zM511 363h1v1h-1zM662 363h1v1h-1zM511 364h1v1h-1zM661 364h1v1h-1zM512 365h1v1h-1zM660 365h1v1h-1zM512 366h1v1h-1zM659 366h1v1h-1zM513 367h1v1h-1zM659 367h1v1h-1zM513 368h1v1h-1zM658 368h1v1h-1zM514 369h1v1h-1zM657 369h1v1h-1zM514 370h1v1h-1zM656 370h1v1h-1zM515 371h1v1h-1zM656 371h1v1h-1zM515 372h1v1h-1zM655 372h1v1h-1zM516 373h1v1h-1zM654 373h1v1h-1zM516 374h1v1h-1zM654 374h1v1h-1zM517 375h1v1h-1zM653 375h1v1h-1zM517 376h1v1h-1zM652 376h1v1h-1zM518 377h1v1h-1zM652 377h1v1h-1zM518 378h1v1h-1zM651 378h1v1h-1zM519 379h1v1h-1zM650 379h1v1h-1zM519 380h1v1h-1zM650 380h1v1h-1zM520 381h1v1h-1zM649 381h1v1h-1zM520 382h1v1h-1zM648 382h1v1h-1zM521 383h1v1h-1zM648 383h1v1h-1zM521 384h1v1h-1zM647 384h1v1h-1zM522 385h1v1h-1zM646 385h1v1h-1zM522 386h1v1h-1zM646 386h1v1h-1zM523 387h1v1h-1zM645 387h1v1h-1zM523 388h1v1h-1zM644 388h1v1h-1zM524 389h1v1h-1zM643 389h1v1h-1zM524 390h1v1h-1zM643 390h1v1h-1zM525 391h1v1h-1zM642 391h1v1h-1zM525 392h1v1h-1zM641 392h1v1h-1zM526 393h1v1h-1zM640 393h1v1h-1zM526 394h1v1h-1zM639 394h1v1h-1zM527 395h1v1h-1zM639 395h1v1h-1zM528 396h1v1h-1zM638 396h1v1h-1zM528 397h1v1h-1zM637 397h1v1h-1zM529 398h1v1h-1zM636 398h1v1h-1zM530 399h1v1h-1zM636 399h1v1h-1zM530 400h1v1h-1zM635 400h1v1h-1zM531 401h1v1h-1zM634 401h1v1h-1zM531 402h1v1h-1zM634 402h1v1h-1zM532 403h1v1h-1zM633 403h1v1h-1zM532 404h1v1h-1zM632 404h1v1h-1zM533 405h1v1h-1zM632 405h1v1h-1zM534 406h1v1h-1zM631 406h1v1h-1zM535 407h1v1h-1zM630 407h1v1h-1zM536 408h1v1h-1zM630 408h1v1h-1zM537 409h1v1h-1zM629 409h1v1h-1zM538 410h1v1h-1zM628 410h1v1h-1zM539 411h1v1h-1zM628 411h1v1h-1zM539 412h1v1h-1zM627 412h1v1h-1zM540 413h1v1h-1zM626 413h1v1h-1zM541 414h1v1h-1zM626 414h1v1h-1zM542 415h1v1h-1zM625 415h1v1h-1zM543 416h1v1h-1zM625 416h1v1h-1zM544 417h1v1h-1zM624 417h1v1h-1zM545 418h1v1h-1zM624 418h1v1h-1zM546 419h1v1h-1zM623 419h1v1h-1zM547 420h1v1h-1zM623 420h1v1h-1zM548 421h1v1h-1zM622 421h1v1h-1zM549 422h1v1h-1zM622 422h1v1h-1zM550 423h1v1h-1zM621 423h1v1h-1zM551 424h1v1h-1zM621 424h1v1h-1zM551 425h1v1h-1zM620 425h1v1h-1zM552 426h1v1h-1zM619 426h1v1h-1zM553 427h1v1h-1zM619 427h1v1h-1zM554 428h2v1h-2zM618 428h1v1h-1zM556 429h1v1h-1zM617 429h1v1h-1zM557 430h1v1h-1zM616 430h1v1h-1zM558 431h2v1h-2zM614 431h2v1h-2zM560 432h1v1h-1zM613 432h1v1h-1zM561 433h1v1h-1zM611 433h2v1h-2zM562 434h2v1h-2zM609 434h2v1h-2zM564 435h1v1h-1zM607 435h2v1h-2zM565 436h3v1h-3zM605 436h2v1h-2zM568 437h16v1h-16zM603 437h2v1h-2zM584 438h3v1h-3zM600 438h3v1h-3zM587 439h2v1h-2zM596 439h4v1h-4zM589 440h7v1h-7z" fill="#0000cd"/>
<path d="M5 41h1v1h-1zM6 42h2v1h-2zM8 43h1v1h-1zM9 44h1v1h-1zM10 45h1v1h-1zM11 46h1v1h-1zM12 47h1v1h-1zM13 48h1v1h-1zM14 49h2v1h-2zM16 50h1v1h-1zM17 51h1v1h-1zM18 52h1v1h-1zM19 53h1v1h-1zM20 54h1v1h-1zM21 55h1v1h-1zM22 56h2v1h-2zM24 57h1v1h-1zM25 58h1v1h-1zM26 59h1v1h-1zM27 60h1v1h-1zM28 61h1v1h-1zM29 62h1v1h-1zM30 63h2v1h-2zM32 64h1v1h-1zM33 65h1v1h-1zM34 66h1v1h-1zM35 67h1v1h-1zM36 68h1v1h-1zM37 69h1v1h-1zM38 70h2v1h-2zM40 71h1v1h-1zM41 72h1v1h-1zM42 73h2v1h-2zM44 74h1v1h-1zM45 75h1v1h-1zM46 76h1v1h-1zM47 77h1v1h-1zM48 78h1v1h-1zM49 79h1v1h-1zM50 80h2v1h-2zM52 81h1v1h-1zM53 82h1v1h-1zM54 83h1v1h-1zM55 84h1v1h-1zM56 85h1v1h-1zM57 86h1v1h-1zM58 87h2v1h-2zM60 88h1v1h-1zM61 89h1v1h-1zM62 90h1v1h-1zM63 91h1v1h-1zM64 92h1v1h-1zM65 93h1v1h-1zM66 94h2v1h-2zM68 95h1v1h-1zM69 96h1v1h-1zM70 97h1v1h-1zM71 98h1v1h-1zM72 99h1v1h-1zM73 100h1v1h-1zM74 101h2v1h-2zM76 102h1v1h-1zM77 103h2v1h-2zM79 104h2v1h-2zM81 105h1v1h-1zM82 106h2v1h-2zM84 107h1v1h-1zM85 108h1v1h-1zM86 109h2v1h-2zM88 110h1v1h-1zM89 111h1v1h-1zM90 112h1v1h-1zM91 113h1v1h-1zM92 114h1v1h-1zM93 115h1v1h-1zM94 116h1v1h-1zM95 117h1v1h-1zM96 118h1v1h-1zM97 119h1v1h-1zM98 120h2v1h-2zM100 121h1v1h-1zM101 122h1v1h-1zM102 123h2v1h-2zM104 124h1v1h-1zM105 125h1v1h-1zM106 126h2v1h-2zM108 127h1v1h-1zM109 128h2v1h-2zM111 129h2v1h-2zM113 130h2v1h-2zM115 131h2v1h-2zM117 132h2v1h-2zM160 132h15v1h-15zM119 133h2v1h-2zM152 133h8v1h-8zM175 133h2v1h-2zM121 134h3v1h-3zM148 134h4v1h-4zM177 134h2v1h-2zM124 135h8v1h-8zM144 135h4v1h-4zM179 135h2v1h-2zM132 136h12v1h-12zM181 136h2v1h-2zM183 137h2v1h-2zM185 138h3v1h-3zM188 139h3v1h-3zM191 140h2v1h-2zM193 141h2v1h-2zM195 142h2v1h-2zM197 143h3v1h-3zM200 144h4v1h-4zM204 145h4v1h-4zM208 146h8v1h-8zM216 147h4v1h-4zM220 148h4v1h-4zM224 149h4v1h-4zM228 150h3v1h-3zM231 151h2v1h-2zM233 152h2v1h-2zM235 153h2v1h-2zM237 154h3v1h-3zM240 155h4v1h-4zM244 156h4v1h-4zM248 157h7v1h-7zM255 158h2v1h-2zM257 159h3v1h-3zM260 160h4v1h-4zM264 161h16v1h-16zM280 162h3v1h-3zM283 163h2v1h-2zM285 164h2v1h-2zM287 165h2v1h-2zM289 166h1v1h-1zM290 167h2v1h-2zM292 168h1v1h-1zM293 169h1v1h-1zM294 170h2v1h-2zM296 171h1v1h-1zM297 172h1v1h-1zM298 173h1v1h-1zM299 174h1v1h-1zM300 175h1v1h-1zM301 176h1v1h-1zM302 177h1v1h-1zM303 178h1v1h-1zM304 179h1v1h-1zM305 180h1v1h-1zM306 181h1v1h-1zM307 182h1v1h-1zM308 183h1v1h-1zM309 184h1v1h-1zM310 185h2v1h-2zM312 186h1v1h-1zM313 187h1v1h-1zM314 188h2v1h-2zM316 189h1v1h-1zM317 190h1v1h-1zM318 191h1v1h-1zM319 192h1v1h-1zM320 193h1v1h-1zM321 194h1v1h-1zM322 195h2v1h-2zM324 196h1v1h-1zM325 197h2v1h-2zM327 198h2v1h-2zM329 199h2v1h-2zM331 200h2v1h-2zM333 201h3v1h-3zM336 202h3v1h-3zM339 203h2v1h-2zM341 204h2v1h-2zM343 205h2v1h-2zM345 206h3v1h-3zM924 206h2v1h-2zM348 207h4v1h-4zM920 207h4v1h-4zM352 208h3v1h-3zM876 208h8v1h-8zM916 208h4v1h-4zM355 209h2v1h-2zM869 209h7v1h-7zM884 209h3v1h-3zM912 209h4v1h-4zM357 210h3v1h-3zM867 210h2v1h-2zM887 210h2v1h-2zM908 210h4v1h-4zM360 211h4v1h-4zM864 211h3v1h-3zM889 211h1v1h-1zM905 211h3v1h-3zM364 212h3v1h-3zM861 212h3v1h-3zM890 212h2v1h-2zM903 212h2v1h-2zM367 213h2v1h-2zM859 213h2v1h-2zM892 213h1v1h-1zM900 213h3v1h-3zM369 214h3v1h-3zM857 214h2v1h-2zM893 214h7v1h-7zM372 215h3v1h-3zM855 215h2v1h-2zM375 216h2v1h-2zM852 216h3v1h-3zM377 217h7v1h-7zM849 217h3v1h-3zM384 218h4v1h-4zM392 218h7v1h-7zM847 218h2v1h-2zM388 219h4v1h-4zM399 219h2v1h-2zM845 219h2v1h-2zM401 220h2v1h-2zM844 220h1v1h-1zM403 221h2v1h-2zM843 221h1v1h-1zM405 222h3v1h-3zM843 222h1v1h-1zM408 223h3v1h-3zM842 223h1v1h-1zM411 224h2v1h-2zM841 224h1v1h-1zM413 225h3v1h-3zM840 225h1v1h-1zM416 226h4v1h-4zM840 226h1v1h-1zM420 227h4v1h-4zM839 227h1v1h-1zM424 228h3v1h-3zM838 228h1v1h-1zM427 229h2v1h-2zM838 229h1v1h-1zM429 230h2v1h-2zM837 230h1v1h-1zM431 231h2v1h-2zM836 231h1v1h-1zM433 232h2v1h-2zM835 232h1v1h-1zM435 233h2v1h-2zM834 233h1v1h-1zM437 234h1v1h-1zM833 234h1v1h-1zM438 235h2v1h-2zM832 235h1v1h-1zM440 236h1v1h-1zM831 236h1v1h-1zM441 237h2v1h-2zM830 237h1v1h-1zM443 238h2v1h-2zM829 238h1v1h-1zM445 239h2v1h-2zM828 239h1v1h-1zM447 240h2v1h-2zM826 240h2v1h-2zM449 241h2v1h-2zM824 241h2v1h-2zM451 242h2v1h-2zM820 242h4v1h-4zM453 243h2v1h-2zM817 243h3v1h-3zM455 244h2v1h-2zM815 244h2v1h-2zM457 245h3v1h-3zM813 245h2v1h-2zM460 246h3v1h-3zM812 246h1v1h-1zM463 247h2v1h-2zM810 247h2v1h-2zM465 248h2v1h-2zM809 248h1v1h-1zM467 249h2v1h-2zM808 249h1v1h-1zM469 250h1v1h-1zM806 250h2v1h-2zM470 251h2v1h-2zM805 251h1v1h-1zM472 252h1v1h-1zM803 252h2v1h-2zM473 253h1v1h-1zM801 253h2v1h-2zM474 254h2v1h-2zM799 254h2v1h-2zM476 255h1v1h-1zM797 255h2v1h-2zM477 256h1v1h-1zM796 256h1v1h-1zM478 257h1v1h-1zM794 257h2v1h-2zM479 258h1v1h-1zM793 258h1v1h-1zM479 259h1v1h-1zM791 259h2v1h-2zM480 260h1v1h-1zM789 260h2v1h-2zM481 261h1v1h-1zM787 261h2v1h-2zM482 262h1v1h-1zM784 262h3v1h-3zM483 263h1v1h-1zM781 263h3v1h-3zM484 264h1v1h-1zM779 264h2v1h-2zM485 265h1v1h-1zM777 265h2v1h-2zM486 266h1v1h-1zM776 266h1v1h-1zM486 267h1v1h-1zM774 267h2v1h-2zM487 268h1v1h-1zM773 268h1v1h-1zM488 269h1v1h-1zM772 269h1v1h-1zM488 270h1v1h-1zM771 270h1v1h-1zM489 271h1v1h-1zM770 271h1v1h-1zM490 272h1v1h-1zM769 272h1v1h-1zM491 273h1v1h-1zM768 273h1v1h-1zM491 274h1v1h-1zM766 274h2v1h-2zM492 275h1v1h-1zM765 275h1v1h-1zM493 276h1v1h-1zM764 276h1v1h-1zM494 277h1v1h-1zM763 277h1v1h-1zM495 278h1v1h-1zM762 278h1v1h-1zM495 279h1v1h-1zM761 279h1v1h-1zM496 280h1v1h-1zM760 280h1v1h-1zM497 281h1v1h-1zM759 281h1v1h-1zM498 282h1v1h-1zM758 282h1v1h-1zM499 283h1v1h-1zM757 283h1v1h-1zM499 284h1v1h-1zM756 284h1v1h-1zM500 285h1v1h-1zM755 285h1v1h-1zM501 286h1v1h-1zM755 286h1v1h-1zM502 287h1v1h-1zM754 287h1v1h-1zM503 288h1v1h-1zM753 288h1v1h-1zM503 289h1v1h-1zM752 289h1v1h-1zM504 290h1v1h-1zM751 290h1v1h-1zM505 291h1v1h-1zM751 291h1v1h-1zM506 292h1v1h-1zM750 292h1v1h-1zM506 293h1v1h-1zM749 293h1v1h-1zM507 294h1v1h-1zM748 294h1v1h-1zM508 295h1v1h-1zM747 295h1v1h-1zM508 296h1v1h-1zM747 296h1v1h-1zM509 297h1v1h-1zM746 297h1v1h-1zM510 298h1v1h-1zM745 298h1v1h-1zM510 299h1v1h-1zM744 299h1v1h-1zM511 300h1v1h-1zM744 300h1v1h-1zM512 301h1v1h-1zM743 301h1v1h-1zM512 302h1v1h-1zM742 302h1v1h-1zM513 303h1v1h-1zM742 303h1v1h-1zM514 304h1v1h-1zM741 304h1v1h-1zM515 305h1v1h-1zM740 305h1v1h-1zM515 306h1v1h-1zM739 306h1v1h-1zM516 307h1v1h-1zM739 307h1v1h-1zM517 308h1v1h-1zM738 308h1v1h-1zM518 309h1v1h-1zM737 309h1v1h-1zM519 310h1v1h-1zM736 310h1v1h-1zM519 311h1v1h-1zM736 311h1v1h-1zM520 312h1v1h-1zM735 312h1v1h-1zM521 313h1v1h-1zM734 313h1v1h-1zM522 314h1v1h-1zM734 314h1v1h-1zM522 315h1v1h-1zM733 315h1v1h-1zM523 316h1v1h-1zM732 316h1v1h-1zM524 317h1v1h-1zM732 317h1v1h-1zM524 318h1v1h-1zM731 318h1v1h-1zM525 319h1v1h-1zM731 319h1v1h-1zM526 320h1v1h-1zM730 320h1v1h-1zM527 321h1v1h-1zM730 321h1v1h-1zM527 322h1v1h-1zM729 322h1v1h-1zM528 323h1v1h-1zM728 323h1v1h-1zM529 324h1v1h-1zM728 324h1v1h-1zM530 325h1v1h-1zM727 325h1v1h-1zM530 326h1v1h-1zM727 326h1v1h-1zM531 327h1v1h-1zM726 327h1v1h-1zM532 328h1v1h-1zM726 328h1v1h-1zM532 329h1v1h-1zM725 329h1v1h-1zM533 330h1v1h-1zM724 330h1v1h-1zM534 331h1v1h-1zM724 331h1v1h-1zM534 332h1v1h-1zM723 332h1v1h-1zM535 333h1v1h-1zM723 333h1v1h-1zM536 334h1v1h-1zM722 334h1v1h-1zM536 335h1v1h-1zM722 335h1v1h-1zM537 336h1v1h-1zM721 336h1v1h-1zM538 337h1v1h-1zM721 337h1v1h-1zM538 338h1v1h-1zM720 338h1v1h-1zM539 339h1v1h-1zM719 339h1v1h-1zM540 340h1v1h-1zM719 340h1v1h-1zM540 341h1v1h-1zM718 341h1v1h-1zM541 342h1v1h-1zM717 342h1v1h-1zM542 343h1v1h-1zM716 343h1v1h-1zM542 344h1v1h-1zM716 344h1v1h-1zM543 345h1v1h-1zM715 345h1v1h-1zM544 346h1v1h-1zM714 346h1v1h-1zM544 347h1v1h-1zM714 347h1v1h-1zM545 348h1v1h-1zM713 348h1v1h-1zM546 349h1v1h-1zM712 349h1v1h-1zM547 350h1v1h-1zM711 350h1v1h-1zM547 351h1v1h-1zM711 351h1v1h-1zM548 352h1v1h-1zM710 352h1v1h-1zM549 353h1v1h-1zM709 353h1v1h-1zM550 354h1v1h-1zM708 354h1v1h-1zM551 355h1v1h-1zM707 355h1v1h-1zM551 356h1v1h-1zM706 356h1v1h-1zM552 357h1v1h-1zM705 357h1v1h-1zM553 358h1v1h-1zM704 358h1v1h-1zM554 359h1v1h-1zM703 359h1v1h-1zM555 360h1v1h-1zM702 360h1v1h-1zM555 361h1v1h-1zM701 361h1v1h-1zM556 362h1v1h-1zM700 362h1v1h-1zM557 363h1v1h-1zM699 363h1v1h-1zM558 364h1v1h-1zM698 364h1v1h-1zM559 365h1v1h-1zM697 365h1v1h-1zM560 366h1v1h-1zM696 366h1v1h-1zM561 367h1v1h-1zM695 367h1v1h-1zM562 368h1v1h-1zM695 368h1v1h-1zM563 369h1v1h-1zM694 369h1v1h-1zM563 370h1v1h-1zM693 370h1v1h-1zM564 371h1v1h-1zM692 371h1v1h-1zM565 372h1v1h-1zM691 372h1v1h-1zM566 373h1v1h-1zM691 373h1v1h-1zM567 374h1v1h-1zM690 374h1v1h-1zM567 375h1v1h-1zM689 375h1v1h-1zM568 376h1v1h-1zM688 376h1v1h-1zM569 377h1v1h-1zM687 377h1v1h-1zM570 378h1v1h-1zM687 378h1v1h-1zM571 379h1v1h-1zM686 379h1v1h-1zM572 380h1v1h-1zM685 380h1v1h-1zM573 381h1v1h-1zM684 381h1v1h-1zM574 382h1v1h-1zM683 382h1v1h-1zM574 383h1v1h-1zM683 383h1v1h-1zM575 384h1v1h-1zM682 384h1v1h-1zM576 385h1v1h-1zM681 385h1v1h-1zM576 386h1v1h-1zM680 386h1v1h-1zM577 387h1v1h-1zM678 387h2v1h-2zM578 388h1v1h-1zM677 388h1v1h-1zM579 389h1v1h-1zM676 389h1v1h-1zM579 390h1v1h-1zM674 390h2v1h-2zM580 391h1v1h-1zM673 391h1v1h-1zM581 392h1v1h-1zM672 392h1v1h-1zM582 393h1v1h-1zM670 393h2v1h-2zM583 394h1v1h-1zM669 394h1v1h-1zM583 395h1v1h-1zM668 395h1v1h-1zM584 396h1v1h-1zM666 396h2v1h-2zM585 397h1v1h-1zM665 397h1v1h-1zM586 398h1v1h-1zM664 398h1v1h-1zM587 399h1v1h-1zM662 399h2v1h-2zM588 400h1v1h-1zM661 400h1v1h-1zM589 401h1v1h-1zM660 401h1v1h-1zM590 402h1v1h-1zM658 402h2v1h-2zM591 403h1v1h-1zM657 403h1v1h-1zM591 404h1v1h-1zM655 404h2v1h-2zM592 405h1v1h-1zM653 405h2v1h-2zM593 406h1v1h-1zM651 406h2v1h-2zM594 407h1v1h-1zM649 407h2v1h-2zM595 408h1v1h-1zM647 408h2v1h-2zM596 409h1v1h-1zM645 409h2v1h-2zM597 410h1v1h-1zM643 410h2v1h-2zM598 411h2v1h-2zM641 411h2v1h-2zM600 412h1v1h-1zM639 412h2v1h-2zM601 413h1v1h-1zM637 413h2v1h-2zM602 414h2v1h-2zM635 414h2v1h-2zM604 415h1v1h-1zM632 415h3v1h-3zM605 416h3v1h-3zM629 416h3v1h-3zM608 417h3v1h-3zM627 417h2v1h-2zM611 418h2v1h-2zM625 418h2v1h-2zM613 419h3v1h-3zM623 419h2v1h-2zM616 420h7v1h-7z" fill="#ffff00"/>
<rect x="5" y="83" width="1162" height="2" fill="#ff0000"/>
<rect x="5" y="173" width="1162" height="2" fill="#00ff00"/>
<rect x="5" y="249" width="1162" height="2" fill="#0000ff"/>
<rect x="5" y="339" width="1162" height="2" fill="#0000ff"/>
<rect x="5" y="446" width="1162" height="2" fill="#0000ff"/>
<path d="M9 124h1v32h-1zM8 127h3v25h-3zM13 117h1v13h-1zM12 121h3v7h-3zM17 95h1v28h-1zM16 95h3v26h-3zM21 95h1v13h-1zM20 95h3v6h-3zM33 95h1v16h-1zM32 95h3v6h-3zM37 95h1v16h-1zM36 95h3v6h-3zM57 141h1v36h-1zM56 144h3v4h-3zM61 117h1v33h-1zM60 144h3v1h-3zM69 146h1v33h-1zM68 151h3v13h-3zM77 141h1v26h-1zM76 156h3v11h-3zM81 95h1v73h-1zM80 115h3v50h-3zM97 132h1v64h-1zM96 136h3v47h-3zM105 116h1v35h-1zM104 133h3v16h-3zM121 151h1v47h-1zM120 154h3v44h-3zM125 143h1v17h-1zM124 148h3v7h-3zM129 138h1v30h-1zM128 139h3v14h-3zM137 106h1v62h-1zM136 127h3v33h-3zM141 95h1v45h-1zM140 113h3v16h-3zM149 107h1v26h-1zM148 115h3v15h-3zM153 95h1v39h-1zM152 95h3v27h-3zM165 95h1v38h-1zM164 95h3v27h-3zM189 156h1v23h-1zM188 168h3v1h-3zM193 132h1v38h-1zM192 159h3v10h-3zM205 162h1v40h-1zM204 170h3v17h-3zM209 140h1v34h-1zM208 149h3v22h-3zM221 193h1v16h-1zM220 196h3v7h-3zM225 182h1v33h-1zM224 199h3v2h-3zM241 167h1v80h-1zM240 179h3v66h-3zM245 148h1v34h-1zM244 157h3v23h-3zM257 180h1v30h-1zM256 193h3v4h-3zM265 144h1v74h-1zM264 167h3v36h-3zM273 161h1v36h-1zM272 177h3v8h-3zM297 245h1v33h-1zM296 255h3v7h-3zM305 255h1v25h-1zM304 261h3v13h-3zM313 229h1v58h-1zM312 245h3v36h-3zM321 232h1v32h-1zM320 238h3v2h-3zM325 208h1v41h-1zM324 229h3v10h-3zM329 202h1v38h-1zM328 227h3v3h-3zM333 193h1v39h-1zM332 200h3v28h-3zM341 202h1v16h-1zM340 208h3v9h-3zM345 194h1v22h-1zM344 209h3v6h-3zM349 185h1v30h-1zM348 194h3v16h-3zM365 218h1v9h-1zM364 219h3v4h-3zM373 217h1v29h-1zM372 232h3v14h-3zM377 190h1v44h-1zM376 199h3v34h-3zM393 218h1v21h-1zM392 225h3v12h-3zM405 224h1v38h-1zM404 233h3v12h-3zM413 247h1v7h-1zM412 249h3v3h-3zM417 234h1v30h-1zM416 235h3v10h-3zM421 212h1v49h-1zM420 217h3v19h-3zM429 234h1v30h-1zM428 255h3v4h-3zM433 245h1v20h-1zM432 252h3v3h-3zM469 318h1v38h-1zM468 332h3v20h-3zM485 404h1v10h-1zM484 412h3v2h-3zM493 418h1v23h-1zM492 433h3v4h-3zM497 415h1v40h-1zM496 428h3v6h-3zM501 404h1v28h-1zM500 409h3v20h-3zM521 419h1v35h-1zM520 435h3v14h-3zM529 432h1v31h-1zM528 442h3v12h-3zM537 436h1v17h-1zM536 438h3v4h-3zM545 419h1v37h-1zM544 425h3v19h-3zM553 421h1v27h-1zM552 435h3v7h-3zM569 434h1v28h-1zM568 453h3v8h-3zM573 421h1v42h-1zM572 422h3v32h-3zM589 429h1v21h-1zM588 429h3v19h-3zM593 422h1v28h-1zM592 429h3v2h-3zM601 402h1v38h-1zM600 402h3v31h-3zM605 395h1v9h-1zM604 400h3v4h-3zM613 383h1v35h-1zM612 384h3v32h-3zM621 314h1v92h-1zM620 315h3v87h-3zM625 259h1v65h-1zM624 278h3v39h-3zM645 322h1v27h-1zM644 323h3v24h-3zM653 336h1v9h-1zM652 337h3v7h-3zM657 319h1v28h-1zM656 329h3v14h-3zM661 296h1v34h-1zM660 305h3v25h-3zM665 285h1v31h-1zM664 293h3v13h-3zM669 283h1v29h-1zM668 293h3v2h-3zM681 308h1v23h-1zM680 327h3v3h-3zM685 253h1v87h-1zM684 266h3v62h-3zM689 242h1v44h-1zM688 247h3v20h-3zM693 210h1v65h-1zM692 235h3v13h-3zM705 244h1v31h-1zM704 271h3v2h-3zM709 233h1v44h-1zM708 246h3v25h-3zM713 239h1v46h-1zM712 240h3v7h-3zM717 212h1v42h-1zM716 214h3v27h-3zM721 200h1v24h-1zM720 211h3v4h-3zM725 202h1v15h-1zM724 203h3v9h-3zM729 113h1v88h-1zM728 137h3v60h-3zM741 208h1v30h-1zM740 215h3v18h-3zM745 202h1v26h-1zM744 214h3v2h-3zM757 208h1v27h-1zM756 214h3v20h-3zM769 256h1v30h-1zM768 266h3v12h-3zM773 254h1v13h-1zM772 260h3v7h-3zM777 249h1v24h-1zM776 250h3v15h-3zM781 217h1v39h-1zM780 228h3v23h-3zM785 223h1v22h-1zM784 227h3v2h-3zM793 214h1v44h-1zM792 222h3v36h-3zM801 211h1v26h-1zM800 218h3v2h-3zM813 237h1v19h-1zM812 241h3v4h-3zM821 242h1v6h-1zM820 243h3v3h-3zM825 213h1v33h-1zM824 219h3v26h-3zM829 190h1v33h-1zM828 195h3v26h-3zM833 184h1v23h-1zM832 188h3v8h-3zM837 108h1v93h-1zM836 119h3v70h-3zM841 49h1v73h-1zM840 93h3v27h-3zM857 186h1v27h-1zM856 195h3v5h-3zM861 181h1v32h-1zM860 181h3v15h-3zM869 196h1v8h-1zM868 197h3v4h-3zM877 182h1v38h-1zM876 193h3v11h-3zM897 224h1v18h-1zM896 236h3v5h-3zM901 186h1v57h-1zM900 195h3v42h-3zM905 133h1v65h-1zM904 169h3v27h-3zM917 177h1v17h-1zM916 179h3v12h-3zM925 170h1v18h-1zM924 185h3v2h-3z" fill="#ff0000"/>
<path d="M5 121h1v46h-1zM4 134h3v18h-3zM29 95h1v13h-1zM28 95h3v6h-3zM41 95h1v31h-1zM40 95h3v21h-3zM45 104h1v34h-1zM44 115h3v21h-3zM49 129h1v27h-1zM48 135h3v10h-3zM53 130h1v26h-1zM52 145h3v11h-3zM65 142h1v51h-1zM64 143h3v21h-3zM73 146h1v34h-1zM72 151h3v16h-3zM85 114h1v33h-1zM84 115h3v17h-3zM89 131h1v29h-1zM88 131h3v22h-3zM93 148h1v38h-1zM92 152h3v31h-3zM101 133h1v28h-1zM100 134h3v16h-3zM109 131h1v22h-1zM108 133h3v13h-3zM113 141h1v63h-1zM112 145h3v50h-3zM117 182h1v30h-1zM116 194h3v4h-3zM133 124h1v40h-1zM132 139h3v20h-3zM145 95h1v50h-1zM144 113h3v17h-3zM157 102h1v23h-1zM156 102h3v1h-3zM161 95h1v38h-1zM160 95h3v27h-3zM169 95h1v35h-1zM168 95h3v33h-3zM173 123h1v10h-1zM172 128h3v4h-3zM177 124h1v19h-1zM176 135h3v3h-3zM181 129h1v27h-1zM180 137h3v15h-3zM185 145h1v31h-1zM184 151h3v18h-3zM197 155h1v17h-1zM196 159h3v1h-3zM201 165h1v24h-1zM200 168h3v19h-3zM213 143h1v34h-1zM212 149h3v4h-3zM217 151h1v53h-1zM216 151h3v52h-3zM229 185h1v28h-1zM228 199h3v8h-3zM233 199h1v29h-1zM232 207h3v15h-3zM237 221h1v45h-1zM236 221h3v24h-3zM249 146h1v39h-1zM248 147h3v34h-3zM253 162h1v36h-1zM252 181h3v16h-3zM261 172h1v33h-1zM260 193h3v10h-3zM269 164h1v20h-1zM268 168h3v10h-3zM277 167h1v44h-1zM276 177h3v10h-3zM281 168h1v33h-1zM280 186h3v2h-3zM285 177h1v45h-1zM284 187h3v34h-3zM289 215h1v39h-1zM288 220h3v32h-3zM293 249h1v19h-1zM292 252h3v14h-3zM301 250h1v24h-1zM300 254h3v20h-3zM309 253h1v59h-1zM308 261h3v20h-3zM317 245h1v14h-1zM316 245h3v9h-3zM337 195h1v29h-1zM336 200h3v17h-3zM353 187h1v47h-1zM352 194h3v25h-3zM357 205h1v21h-1zM356 218h3v2h-3zM361 219h1v15h-1zM360 220h3v13h-3zM369 208h1v43h-1zM368 219h3v27h-3zM381 191h1v27h-1zM380 199h3v18h-3zM385 201h1v32h-1zM384 216h3v17h-3zM389 231h1v9h-1zM388 232h3v7h-3zM397 193h1v41h-1zM396 225h3v8h-3zM401 216h1v30h-1zM400 232h3v13h-3zM409 224h1v30h-1zM408 233h3v19h-3zM425 182h1v88h-1zM424 217h3v42h-3zM437 246h1v18h-1zM436 253h3v10h-3zM441 255h1v49h-1zM440 258h3v39h-3zM445 287h1v15h-1zM444 296h3v2h-3zM449 287h1v32h-1zM448 297h3v21h-3zM453 314h1v36h-1zM452 316h3v28h-3zM457 330h1v26h-1zM456 342h3v3h-3zM461 342h1v11h-1zM460 344h3v5h-3zM465 332h1v24h-1zM464 347h3v5h-3zM473 331h1v32h-1zM472 332h3v26h-3zM477 346h1v49h-1zM476 357h3v32h-3zM481 387h1v32h-1zM480 388h3v26h-3zM489 416h1v23h-1zM488 418h3v19h-3zM505 384h1v56h-1zM504 409h3v15h-3zM509 418h1v9h-1zM508 423h3v3h-3zM513 414h1v30h-1zM512 422h3v21h-3zM517 438h1v32h-1zM516 442h3v6h-3zM525 410h1v44h-1zM524 434h3v19h-3zM533 433h1v15h-1zM532 442h3v6h-3zM541 437h1v26h-1zM540 438h3v6h-3zM549 411h1v40h-1zM548 425h3v17h-3zM557 434h1v9h-1zM556 435h3v5h-3zM561 435h1v13h-1zM560 441h3v4h-3zM565 442h1v31h-1zM564 444h3v17h-3zM577 415h1v29h-1zM576 422h3v14h-3zM581 435h1v8h-1zM580 435h3v7h-3zM585 427h1v21h-1zM584 440h3v8h-3zM597 419h1v25h-1zM596 429h3v4h-3zM609 398h1v20h-1zM608 404h3v12h-3zM617 384h1v18h-1zM616 384h3v18h-3zM629 277h1v12h-1zM628 278h3v7h-3zM633 256h1v56h-1zM632 275h3v35h-3zM637 294h1v23h-1zM636 309h3v3h-3zM641 311h1v52h-1zM640 311h3v36h-3zM649 323h1v31h-1zM648 323h3v21h-3zM673 273h1v49h-1zM672 293h3v28h-3zM677 317h1v20h-1zM676 320h3v13h-3zM697 225h1v42h-1zM696 235h3v27h-3zM701 258h1v15h-1zM700 261h3v11h-3zM733 122h1v30h-1zM732 137h3v14h-3zM737 147h1v93h-1zM736 150h3v83h-3zM749 214h1v6h-1zM748 214h3v4h-3zM753 210h1v29h-1zM752 220h3v14h-3zM761 204h1v23h-1zM760 214h3v9h-3zM765 204h1v77h-1zM764 222h3v57h-3zM789 226h1v37h-1zM788 228h3v30h-3zM797 220h1v9h-1zM796 222h3v3h-3zM805 211h1v31h-1zM804 218h3v19h-3zM809 229h1v27h-1zM808 236h3v9h-3zM817 236h1v15h-1zM816 241h3v5h-3zM845 92h1v8h-1zM844 92h3v4h-3zM849 103h1v76h-1zM848 103h3v73h-3zM853 173h1v43h-1zM852 173h3v27h-3zM865 157h1v44h-1zM864 182h3v19h-3zM873 190h1v29h-1zM872 199h3v5h-3zM881 189h1v27h-1zM880 193h3v7h-3zM885 189h1v39h-1zM884 199h3v25h-3zM889 221h1v33h-1zM888 223h3v18h-3zM893 238h1v12h-1zM892 240h3v5h-3zM909 148h1v39h-1zM908 170h3v14h-3zM913 173h1v42h-1zM912 183h3v8h-3zM921 163h1v26h-1zM920 168h3v19h-3z" fill="#32cd32"/>
<path d="M9 128h1v23h-1zM13 122h1v5h-1zM17 96h1v24h-1zM21 96h1v4h-1zM33 96h1v4h-1zM37 96h1v4h-1zM57 145h1v2h-1zM69 152h1v11h-1zM77 157h1v9h-1zM81 116h1v48h-1zM97 137h1v45h-1zM105 134h1v14h-1zM121 155h1v42h-1zM125 149h1v5h-1zM129 140h1v12h-1zM137 128h1v31h-1zM141 114h1v14h-1zM149 116h1v13h-1zM153 96h1v25h-1zM165 96h1v25h-1zM193 160h1v8h-1zM205 171h1v15h-1zM209 150h1v20h-1zM221 197h1v5h-1zM241 180h1v64h-1zM245 158h1v21h-1zM257 194h1v2h-1zM265 168h1v34h-1zM273 178h1v6h-1zM297 256h1v5h-1zM305 262h1v11h-1zM313 246h1v34h-1zM325 230h1v8h-1zM329 228h1v1h-1zM333 201h1v26h-1zM341 209h1v7h-1zM345 210h1v4h-1zM349 195h1v14h-1zM365 220h1v2h-1zM373 233h1v12h-1zM377 200h1v32h-1zM393 226h1v10h-1zM405 234h1v10h-1zM413 250h1v1h-1zM417 236h1v8h-1zM421 218h1v17h-1zM429 256h1v2h-1zM433 253h1v1h-1zM469 333h1v18h-1zM493 434h1v2h-1zM497 429h1v4h-1zM501 410h1v18h-1zM521 436h1v12h-1zM529 443h1v10h-1zM537 439h1v2h-1zM545 426h1v17h-1zM553 436h1v5h-1zM569 454h1v6h-1zM573 423h1v30h-1zM589 430h1v17h-1zM601 403h1v29h-1zM605 401h1v2h-1zM613 385h1v30h-1zM621 316h1v85h-1zM625 279h1v37h-1zM645 324h1v22h-1zM653 338h1v5h-1zM657 330h1v12h-1zM661 306h1v23h-1zM665 294h1v11h-1zM681 328h1v1h-1zM685 267h1v60h-1zM689 248h1v18h-1zM693 236h1v11h-1zM709 247h1v23h-1zM713 241h1v5h-1zM717 215h1v25h-1zM721 212h1v2h-1zM725 204h1v7h-1zM729 138h1v58h-1zM741 216h1v16h-1zM757 215h1v18h-1zM769 267h1v10h-1zM773 261h1v5h-1zM777 251h1v13h-1zM781 229h1v21h-1zM793 223h1v34h-1zM813 242h1v2h-1zM821 244h1v1h-1zM825 220h1v24h-1zM829 196h1v24h-1zM833 189h1v6h-1zM837 120h1v68h-1zM841 94h1v25h-1zM857 196h1v3h-1zM861 182h1v13h-1zM869 198h1v2h-1zM877 194h1v9h-1zM897 237h1v3h-1zM901 196h1v40h-1zM905 170h1v25h-1zM917 180h1v10h-1z" fill="#ff4500"/>
</g>
<g clip-path="url(#macdclip)">
<path d="M5 527h2v31h-2zM8 527h3v29h-3zM12 527h3v27h-3zM16 527h3v22h-3zM20 527h3v17h-3zM24 527h3v15h-3zM28 527h3v13h-3zM32 527h3v12h-3zM36 527h3v10h-3zM40 527h3v10h-3zM44 527h3v12h-3zM48 527h3v13h-3zM52 527h3v15h-3zM56 527h3v15h-3zM60 527h3v16h-3zM64 527h3v17h-3zM68 527h3v17h-3zM72 527h3v17h-3zM76 527h3v17h-3zM80 527h3v14h-3zM84 527h3v13h-3zM88 527h3v13h-3zM92 527h3v14h-3zM96 527h3v13h-3zM100 527h3v12h-3zM104 527h3v11h-3zM108 527h3v10h-3zM112 527h3v13h-3zM116 527h3v14h-3zM120 527h3v13h-3zM124 527h3v11h-3zM128 527h3v10h-3zM132 527h3v9h-3zM136 527h3v7h-3zM140 527h3v4h-3zM144 527h3v3h-3zM148 527h3v1h-3zM152 525h3v2h-3zM156 523h3v4h-3zM160 523h3v4h-3zM164 521h3v6h-3zM168 522h3v5h-3zM172 523h3v4h-3zM176 524h3v3h-3zM180 526h3v1h-3zM184 527h3v2h-3zM188 527h3v4h-3zM192 527h3v5h-3zM196 527h3v6h-3zM200 527h3v8h-3zM204 527h3v8h-3zM208 527h3v7h-3zM212 527h3v7h-3zM216 527h3v9h-3zM220 527h3v11h-3zM224 527h3v12h-3zM228 527h3v13h-3zM232 527h3v15h-3zM236 527h3v18h-3zM240 527h3v16h-3zM244 527h3v12h-3zM248 527h3v11h-3zM252 527h3v11h-3zM256 527h3v11h-3zM260 527h3v11h-3zM264 527h3v10h-3zM268 527h3v8h-3zM272 527h3v7h-3zM276 527h3v6h-3zM280 527h3v6h-3zM284 527h3v7h-3zM288 527h3v11h-3zM292 527h3v15h-3zM296 527h3v16h-3zM300 527h3v20h-3zM304 527h3v21h-3zM308 527h3v21h-3zM312 527h3v21h-3zM316 527h3v21h-3zM320 527h3v18h-3zM324 527h3v16h-3zM328 527h3v15h-3zM332 527h3v11h-3zM336 527h3v10h-3zM340 527h3v7h-3zM344 527h3v5h-3zM348 527h3v3h-3zM352 527h3v3h-3zM356 527h3v3h-3zM360 527h3v3h-3zM364 527h3v3h-3zM368 527h3v4h-3zM372 527h3v5h-3zM376 527h3v4h-3zM380 527h3v3h-3zM384 527h3v3h-3zM388 527h3v4h-3zM392 527h3v3h-3zM396 527h3v4h-3zM400 527h3v5h-3zM404 527h3v5h-3zM408 527h3v6h-3zM412 527h3v6h-3zM416 527h3v6h-3zM420 527h3v5h-3zM424 527h3v6h-3zM428 527h3v6h-3zM432 527h3v7h-3zM436 527h3v8h-3zM440 527h3v10h-3zM444 527h3v12h-3zM448 527h3v15h-3zM452 527h3v20h-3zM456 527h3v21h-3zM460 527h3v25h-3zM464 527h3v25h-3zM468 527h3v25h-3zM472 527h3v26h-3zM476 527h3v29h-3zM480 527h3v32h-3zM484 527h3v34h-3zM488 527h3v37h-3zM492 527h3v38h-3zM496 527h3v39h-3zM500 527h3v38h-3zM504 527h3v37h-3zM508 527h3v36h-3zM512 527h3v36h-3zM516 527h3v36h-3zM520 527h3v35h-3zM524 527h3v35h-3zM528 527h3v34h-3zM532 527h3v33h-3zM536 527h3v31h-3zM540 527h3v30h-3zM544 527h3v27h-3zM548 527h3v26h-3zM552 527h3v24h-3zM556 527h3v23h-3zM560 527h3v22h-3zM564 527h3v22h-3zM568 527h3v21h-3zM572 527h3v18h-3zM576 527h3v17h-3zM580 527h3v16h-3zM584 527h3v15h-3zM588 527h3v14h-3zM592 527h3v12h-3zM596 527h3v11h-3zM600 527h3v8h-3zM604 527h3v6h-3zM608 527h3v5h-3zM612 527h3v2h-3zM616 526h3v1h-3zM620 520h3v7h-3zM624 513h3v14h-3zM628 508h3v19h-3zM632 506h3v21h-3zM636 504h3v23h-3zM640 506h3v21h-3zM644 506h3v21h-3zM648 507h3v20h-3zM652 508h3v19h-3zM656 507h3v20h-3zM660 507h3v20h-3zM664 506h3v21h-3zM668 505h3v22h-3zM672 507h3v20h-3zM676 509h3v18h-3zM680 510h3v17h-3zM684 508h3v19h-3zM688 505h3v22h-3zM692 502h3v25h-3zM696 502h3v25h-3zM700 502h3v25h-3zM704 503h3v24h-3zM708 502h3v25h-3zM712 502h3v25h-3zM716 500h3v27h-3zM720 499h3v28h-3zM724 498h3v29h-3zM728 493h3v34h-3zM732 490h3v37h-3zM736 494h3v33h-3zM740 496h3v31h-3zM744 497h3v30h-3zM748 500h3v27h-3zM752 503h3v24h-3zM756 504h3v23h-3zM760 506h3v21h-3zM764 511h3v16h-3zM768 515h3v12h-3zM772 517h3v10h-3zM776 518h3v9h-3zM780 518h3v9h-3zM784 518h3v9h-3zM788 520h3v7h-3zM792 519h3v8h-3zM796 519h3v8h-3zM800 519h3v8h-3zM804 520h3v7h-3zM808 521h3v6h-3zM812 522h3v5h-3zM816 522h3v5h-3zM820 523h3v4h-3zM824 522h3v5h-3zM828 520h3v7h-3zM832 518h3v9h-3zM836 512h3v15h-3zM840 506h3v21h-3zM844 502h3v25h-3zM848 504h3v23h-3zM852 507h3v20h-3zM856 509h3v18h-3zM860 511h3v16h-3zM864 513h3v14h-3zM868 515h3v12h-3zM872 517h3v10h-3zM876 518h3v9h-3zM880 519h3v8h-3zM884 521h3v6h-3zM888 525h3v2h-3zM892 527h3v1h-3zM896 527h3v3h-3zM900 527h3v2h-3zM904 525h3v2h-3zM908 524h3v3h-3zM912 523h3v4h-3zM916 522h3v5h-3zM920 522h3v5h-3zM924 522h3v5h-3z" fill="#c0c0c0"/>
<path d="M748 496h4v1h-4zM740 497h8v1h-8zM752 497h11v1h-11zM736 498h4v1h-4zM763 498h2v1h-2zM732 499h4v1h-4zM765 499h1v1h-1zM728 500h4v1h-4zM766 500h2v1h-2zM724 501h4v1h-4zM768 501h1v1h-1zM720 502h4v1h-4zM769 502h1v1h-1zM716 503h4v1h-4zM770 503h2v1h-2zM712 504h4v1h-4zM772 504h1v1h-1zM700 505h12v1h-12zM773 505h1v1h-1zM664 506h8v1h-8zM696 506h4v1h-4zM774 506h2v1h-2zM657 507h7v1h-7zM672 507h8v1h-8zM688 507h8v1h-8zM776 507h1v1h-1zM655 508h2v1h-2zM680 508h8v1h-8zM777 508h2v1h-2zM652 509h3v1h-3zM779 509h2v1h-2zM860 509h16v1h-16zM649 510h3v1h-3zM781 510h2v1h-2zM857 510h3v1h-3zM876 510h3v1h-3zM647 511h2v1h-2zM783 511h2v1h-2zM855 511h2v1h-2zM879 511h2v1h-2zM645 512h2v1h-2zM785 512h2v1h-2zM853 512h2v1h-2zM881 512h2v1h-2zM644 513h1v1h-1zM787 513h2v1h-2zM851 513h2v1h-2zM883 513h2v1h-2zM642 514h2v1h-2zM789 514h3v1h-3zM848 514h3v1h-3zM885 514h2v1h-2zM641 515h1v1h-1zM792 515h3v1h-3zM845 515h3v1h-3zM887 515h2v1h-2zM640 516h1v1h-1zM795 516h2v1h-2zM843 516h2v1h-2zM889 516h2v1h-2zM638 517h2v1h-2zM797 517h3v1h-3zM841 517h2v1h-2zM891 517h2v1h-2zM637 518h1v1h-1zM800 518h4v1h-4zM840 518h1v1h-1zM893 518h2v1h-2zM636 519h1v1h-1zM804 519h12v1h-12zM838 519h2v1h-2zM895 519h2v1h-2zM634 520h2v1h-2zM816 520h4v1h-4zM836 520h2v1h-2zM897 520h2v1h-2zM633 521h1v1h-1zM820 521h16v1h-16zM899 521h2v1h-2zM632 522h1v1h-1zM901 522h3v1h-3zM631 523h1v1h-1zM904 523h4v1h-4zM176 524h16v1h-16zM630 524h1v1h-1zM908 524h4v1h-4zM172 525h4v1h-4zM192 525h4v1h-4zM629 525h1v1h-1zM912 525h14v1h-14zM165 526h7v1h-7zM196 526h3v1h-3zM628 526h1v1h-1zM163 527h2v1h-2zM199 527h2v1h-2zM627 527h1v1h-1zM161 528h2v1h-2zM201 528h3v1h-3zM626 528h1v1h-1zM159 529h2v1h-2zM204 529h4v1h-4zM376 529h24v1h-24zM625 529h1v1h-1zM157 530h2v1h-2zM208 530h4v1h-4zM368 530h8v1h-8zM400 530h20v1h-20zM624 530h1v1h-1zM155 531h2v1h-2zM212 531h4v1h-4zM364 531h4v1h-4zM420 531h12v1h-12zM622 531h2v1h-2zM152 532h3v1h-3zM216 532h4v1h-4zM361 532h3v1h-3zM432 532h4v1h-4zM621 532h1v1h-1zM149 533h3v1h-3zM220 533h4v1h-4zM359 533h2v1h-2zM436 533h14v1h-14zM619 533h2v1h-2zM147 534h2v1h-2zM224 534h4v1h-4zM280 534h12v1h-12zM356 534h3v1h-3zM450 534h2v1h-2zM616 534h3v1h-3zM144 535h3v1h-3zM228 535h4v1h-4zM277 535h3v1h-3zM292 535h8v1h-8zM353 535h3v1h-3zM452 535h1v1h-1zM613 535h3v1h-3zM140 536h4v1h-4zM232 536h4v1h-4zM275 536h2v1h-2zM300 536h3v1h-3zM351 536h2v1h-2zM453 536h2v1h-2zM611 536h2v1h-2zM136 537h4v1h-4zM236 537h4v1h-4zM272 537h3v1h-3zM303 537h2v1h-2zM349 537h2v1h-2zM455 537h2v1h-2zM608 537h3v1h-3zM124 538h12v1h-12zM240 538h4v1h-4zM268 538h4v1h-4zM305 538h3v1h-3zM347 538h2v1h-2zM457 538h2v1h-2zM605 538h3v1h-3zM52 539h16v1h-16zM108 539h16v1h-16zM244 539h24v1h-24zM308 539h3v1h-3zM345 539h2v1h-2zM459 539h2v1h-2zM603 539h2v1h-2zM48 540h4v1h-4zM68 540h4v1h-4zM104 540h4v1h-4zM311 540h2v1h-2zM343 540h2v1h-2zM461 540h2v1h-2zM601 540h2v1h-2zM45 541h3v1h-3zM72 541h8v1h-8zM88 541h16v1h-16zM313 541h2v1h-2zM340 541h3v1h-3zM463 541h2v1h-2zM599 541h2v1h-2zM43 542h2v1h-2zM80 542h8v1h-8zM315 542h2v1h-2zM337 542h3v1h-3zM465 542h2v1h-2zM596 542h3v1h-3zM41 543h2v1h-2zM317 543h3v1h-3zM335 543h2v1h-2zM467 543h2v1h-2zM592 543h4v1h-4zM40 544h1v1h-1zM320 544h15v1h-15zM469 544h2v1h-2zM589 544h3v1h-3zM38 545h2v1h-2zM471 545h2v1h-2zM587 545h2v1h-2zM37 546h1v1h-1zM473 546h2v1h-2zM584 546h3v1h-3zM35 547h2v1h-2zM475 547h2v1h-2zM580 547h4v1h-4zM33 548h2v1h-2zM477 548h2v1h-2zM576 548h4v1h-4zM31 549h2v1h-2zM479 549h2v1h-2zM573 549h3v1h-3zM29 550h2v1h-2zM481 550h2v1h-2zM571 550h2v1h-2zM27 551h2v1h-2zM483 551h2v1h-2zM568 551h3v1h-3zM25 552h2v1h-2zM485 552h2v1h-2zM564 552h4v1h-4zM23 553h2v1h-2zM487 553h2v1h-2zM561 553h3v1h-3zM21 554h2v1h-2zM489 554h2v1h-2zM559 554h2v1h-2zM19 555h2v1h-2zM491 555h2v1h-2zM556 555h3v1h-3zM16 556h3v1h-3zM493 556h3v1h-3zM552 556h4v1h-4zM5 557h11v1h-11zM496 557h3v1h-3zM549 557h3v1h-3zM499 558h2v1h-2zM547 558h2v1h-2zM501 559h3v1h-3zM544 559h3v1h-3zM504 560h4v1h-4zM540 560h4v1h-4zM508 561h7v1h-7zM536 561h4v1h-4zM515 562h2v1h-2zM528 562h8v1h-8zM517 563h11v1h-11z" fill="#ff0000"/>
</g>
<g clip-path="url(#rsiclip)">
<path d="M6 598.5H1167" stroke="#c0c0c0" stroke-width="1" stroke-dasharray="3 3" fill="none"/>
<path d="M6 632.5H1167" stroke="#c0c0c0" stroke-width="1" stroke-dasharray="3 3" fill="none"/>
<path d="M729 592h1v1h-1zM728 593h1v1h-1zM730 593h2v1h-2zM728 594h1v1h-1zM732 594h1v1h-1zM841 594h3v1h-3zM625 595h3v1h-3zM727 595h1v1h-1zM733 595h1v1h-1zM839 595h2v1h-2zM844 595h2v1h-2zM624 596h1v1h-1zM628 596h2v1h-2zM726 596h1v1h-1zM733 596h1v1h-1zM837 596h2v1h-2zM845 596h1v1h-1zM623 597h1v1h-1zM630 597h1v1h-1zM726 597h1v1h-1zM733 597h1v1h-1zM837 597h1v1h-1zM845 597h1v1h-1zM622 598h1v1h-1zM630 598h1v1h-1zM724 598h2v1h-2zM734 598h1v1h-1zM836 598h1v1h-1zM846 598h1v1h-1zM621 599h1v1h-1zM631 599h1v1h-1zM692 599h2v1h-2zM717 599h7v1h-7zM734 599h1v1h-1zM836 599h1v1h-1zM846 599h1v1h-1zM621 600h1v1h-1zM632 600h1v1h-1zM688 600h4v1h-4zM694 600h1v1h-1zM716 600h1v1h-1zM734 600h1v1h-1zM835 600h1v1h-1zM846 600h1v1h-1zM620 601h1v1h-1zM632 601h1v1h-1zM685 601h3v1h-3zM695 601h1v1h-1zM714 601h2v1h-2zM734 601h1v1h-1zM835 601h1v1h-1zM846 601h1v1h-1zM620 602h1v1h-1zM633 602h3v1h-3zM685 602h1v1h-1zM695 602h1v1h-1zM712 602h2v1h-2zM735 602h1v1h-1zM834 602h1v1h-1zM847 602h1v1h-1zM620 603h1v1h-1zM636 603h2v1h-2zM665 603h5v1h-5zM684 603h1v1h-1zM696 603h1v1h-1zM709 603h3v1h-3zM735 603h1v1h-1zM834 603h1v1h-1zM847 603h1v1h-1zM619 604h1v1h-1zM638 604h1v1h-1zM663 604h2v1h-2zM670 604h1v1h-1zM684 604h1v1h-1zM697 604h1v1h-1zM708 604h1v1h-1zM735 604h1v1h-1zM833 604h1v1h-1zM847 604h1v1h-1zM619 605h1v1h-1zM638 605h1v1h-1zM661 605h2v1h-2zM670 605h1v1h-1zM683 605h1v1h-1zM698 605h2v1h-2zM707 605h1v1h-1zM735 605h1v1h-1zM832 605h2v1h-2zM847 605h1v1h-1zM619 606h1v1h-1zM639 606h1v1h-1zM660 606h1v1h-1zM671 606h1v1h-1zM683 606h1v1h-1zM700 606h1v1h-1zM706 606h1v1h-1zM736 606h1v1h-1zM829 606h3v1h-3zM848 606h1v1h-1zM613 607h1v1h-1zM619 607h1v1h-1zM639 607h1v1h-1zM645 607h1v1h-1zM658 607h2v1h-2zM672 607h1v1h-1zM683 607h1v1h-1zM701 607h5v1h-5zM736 607h1v1h-1zM828 607h1v1h-1zM848 607h1v1h-1zM612 608h1v1h-1zM614 608h1v1h-1zM618 608h1v1h-1zM640 608h1v1h-1zM644 608h1v1h-1zM646 608h2v1h-2zM656 608h2v1h-2zM672 608h1v1h-1zM682 608h1v1h-1zM736 608h1v1h-1zM744 608h4v1h-4zM827 608h1v1h-1zM848 608h1v1h-1zM905 608h1v1h-1zM153 609h5v1h-5zM612 609h1v1h-1zM615 609h1v1h-1zM618 609h1v1h-1zM640 609h1v1h-1zM642 609h2v1h-2zM648 609h1v1h-1zM652 609h4v1h-4zM673 609h1v1h-1zM682 609h1v1h-1zM736 609h1v1h-1zM741 609h3v1h-3zM748 609h2v1h-2zM757 609h2v1h-2zM826 609h1v1h-1zM848 609h1v1h-1zM904 609h1v1h-1zM906 609h2v1h-2zM21 610h1v1h-1zM151 610h2v1h-2zM158 610h1v1h-1zM165 610h1v1h-1zM349 610h1v1h-1zM601 610h5v1h-5zM611 610h1v1h-1zM615 610h1v1h-1zM618 610h1v1h-1zM641 610h1v1h-1zM649 610h3v1h-3zM674 610h2v1h-2zM681 610h1v1h-1zM737 610h1v1h-1zM739 610h2v1h-2zM750 610h2v1h-2zM756 610h1v1h-1zM759 610h2v1h-2zM800 610h2v1h-2zM825 610h1v1h-1zM849 610h1v1h-1zM903 610h1v1h-1zM908 610h1v1h-1zM20 611h1v1h-1zM22 611h1v1h-1zM141 611h2v1h-2zM149 611h2v1h-2zM159 611h1v1h-1zM164 611h1v1h-1zM166 611h1v1h-1zM333 611h1v1h-1zM348 611h1v1h-1zM350 611h1v1h-1zM377 611h1v1h-1zM600 611h1v1h-1zM606 611h1v1h-1zM611 611h1v1h-1zM616 611h2v1h-2zM676 611h1v1h-1zM680 611h2v1h-2zM737 611h2v1h-2zM752 611h1v1h-1zM754 611h2v1h-2zM761 611h1v1h-1zM781 611h5v1h-5zM793 611h7v1h-7zM802 611h1v1h-1zM824 611h1v1h-1zM849 611h1v1h-1zM902 611h1v1h-1zM909 611h3v1h-3zM916 611h4v1h-4zM19 612h1v1h-1zM22 612h1v1h-1zM139 612h2v1h-2zM143 612h2v1h-2zM147 612h2v1h-2zM160 612h1v1h-1zM162 612h2v1h-2zM167 612h1v1h-1zM332 612h1v1h-1zM334 612h1v1h-1zM346 612h2v1h-2zM350 612h1v1h-1zM376 612h1v1h-1zM378 612h1v1h-1zM600 612h1v1h-1zM607 612h1v1h-1zM610 612h1v1h-1zM617 612h1v1h-1zM677 612h3v1h-3zM753 612h1v1h-1zM761 612h1v1h-1zM780 612h1v1h-1zM786 612h1v1h-1zM792 612h1v1h-1zM803 612h1v1h-1zM823 612h1v1h-1zM850 612h2v1h-2zM860 612h2v1h-2zM901 612h1v1h-1zM912 612h4v1h-4zM920 612h6v1h-6zM19 613h1v1h-1zM23 613h1v1h-1zM137 613h2v1h-2zM145 613h2v1h-2zM161 613h1v1h-1zM167 613h1v1h-1zM245 613h1v1h-1zM332 613h1v1h-1zM335 613h1v1h-1zM341 613h5v1h-5zM351 613h1v1h-1zM376 613h1v1h-1zM379 613h1v1h-1zM421 613h1v1h-1zM599 613h1v1h-1zM608 613h1v1h-1zM610 613h1v1h-1zM762 613h1v1h-1zM779 613h1v1h-1zM787 613h1v1h-1zM791 613h1v1h-1zM804 613h1v1h-1zM823 613h1v1h-1zM852 613h1v1h-1zM856 613h4v1h-4zM862 613h2v1h-2zM877 613h3v1h-3zM900 613h1v1h-1zM18 614h1v1h-1zM24 614h1v1h-1zM81 614h1v1h-1zM136 614h1v1h-1zM168 614h1v1h-1zM244 614h1v1h-1zM246 614h1v1h-1zM265 614h3v1h-3zM331 614h1v1h-1zM336 614h1v1h-1zM339 614h2v1h-2zM352 614h1v1h-1zM375 614h1v1h-1zM380 614h1v1h-1zM420 614h2v1h-2zM599 614h1v1h-1zM609 614h1v1h-1zM762 614h1v1h-1zM778 614h1v1h-1zM787 614h1v1h-1zM791 614h1v1h-1zM805 614h3v1h-3zM822 614h1v1h-1zM853 614h3v1h-3zM864 614h1v1h-1zM868 614h4v1h-4zM875 614h2v1h-2zM880 614h2v1h-2zM900 614h1v1h-1zM17 615h1v1h-1zM24 615h1v1h-1zM37 615h1v1h-1zM81 615h3v1h-3zM128 615h2v1h-2zM135 615h1v1h-1zM169 615h6v1h-6zM243 615h1v1h-1zM247 615h1v1h-1zM264 615h1v1h-1zM268 615h7v1h-7zM330 615h1v1h-1zM337 615h2v1h-2zM352 615h1v1h-1zM375 615h1v1h-1zM381 615h1v1h-1zM419 615h1v1h-1zM422 615h1v1h-1zM598 615h1v1h-1zM763 615h1v1h-1zM776 615h2v1h-2zM788 615h1v1h-1zM790 615h1v1h-1zM808 615h14v1h-14zM865 615h3v1h-3zM872 615h3v1h-3zM882 615h1v1h-1zM899 615h1v1h-1zM16 616h1v1h-1zM25 616h3v1h-3zM35 616h2v1h-2zM38 616h1v1h-1zM80 616h1v1h-1zM84 616h1v1h-1zM97 616h2v1h-2zM105 616h2v1h-2zM124 616h4v1h-4zM130 616h2v1h-2zM135 616h1v1h-1zM175 616h2v1h-2zM209 616h5v1h-5zM242 616h1v1h-1zM248 616h1v1h-1zM264 616h1v1h-1zM275 616h2v1h-2zM330 616h1v1h-1zM353 616h6v1h-6zM365 616h1v1h-1zM374 616h1v1h-1zM382 616h2v1h-2zM393 616h3v1h-3zM418 616h1v1h-1zM422 616h1v1h-1zM598 616h1v1h-1zM763 616h1v1h-1zM772 616h4v1h-4zM789 616h1v1h-1zM883 616h1v1h-1zM899 616h1v1h-1zM16 617h1v1h-1zM28 617h7v1h-7zM39 617h1v1h-1zM80 617h1v1h-1zM85 617h1v1h-1zM97 617h1v1h-1zM99 617h2v1h-2zM103 617h2v1h-2zM107 617h2v1h-2zM121 617h3v1h-3zM132 617h1v1h-1zM134 617h1v1h-1zM177 617h2v1h-2zM208 617h1v1h-1zM213 617h1v1h-1zM241 617h1v1h-1zM249 617h2v1h-2zM263 617h1v1h-1zM277 617h5v1h-5zM325 617h5v1h-5zM359 617h2v1h-2zM363 617h2v1h-2zM366 617h1v1h-1zM374 617h1v1h-1zM384 617h1v1h-1zM392 617h1v1h-1zM396 617h2v1h-2zM405 617h1v1h-1zM417 617h1v1h-1zM423 617h1v1h-1zM573 617h1v1h-1zM597 617h1v1h-1zM764 617h1v1h-1zM769 617h3v1h-3zM883 617h1v1h-1zM898 617h1v1h-1zM15 618h1v1h-1zM39 618h1v1h-1zM79 618h1v1h-1zM86 618h1v1h-1zM96 618h1v1h-1zM101 618h2v1h-2zM109 618h1v1h-1zM120 618h1v1h-1zM133 618h1v1h-1zM179 618h2v1h-2zM207 618h1v1h-1zM214 618h1v1h-1zM241 618h1v1h-1zM251 618h2v1h-2zM262 618h1v1h-1zM282 618h1v1h-1zM323 618h2v1h-2zM361 618h2v1h-2zM367 618h1v1h-1zM373 618h1v1h-1zM385 618h3v1h-3zM390 618h2v1h-2zM398 618h2v1h-2zM404 618h1v1h-1zM406 618h1v1h-1zM416 618h1v1h-1zM423 618h1v1h-1zM573 618h3v1h-3zM589 618h9v1h-9zM764 618h1v1h-1zM767 618h2v1h-2zM884 618h1v1h-1zM898 618h1v1h-1zM15 619h1v1h-1zM40 619h1v1h-1zM79 619h1v1h-1zM87 619h1v1h-1zM96 619h1v1h-1zM110 619h1v1h-1zM120 619h1v1h-1zM181 619h1v1h-1zM207 619h1v1h-1zM214 619h1v1h-1zM240 619h1v1h-1zM253 619h7v1h-7zM262 619h1v1h-1zM282 619h1v1h-1zM321 619h2v1h-2zM367 619h1v1h-1zM372 619h1v1h-1zM388 619h2v1h-2zM400 619h1v1h-1zM402 619h2v1h-2zM407 619h1v1h-1zM414 619h2v1h-2zM424 619h1v1h-1zM572 619h1v1h-1zM576 619h1v1h-1zM588 619h1v1h-1zM765 619h2v1h-2zM885 619h2v1h-2zM897 619h1v1h-1zM14 620h1v1h-1zM41 620h2v1h-2zM78 620h1v1h-1zM88 620h1v1h-1zM95 620h1v1h-1zM110 620h1v1h-1zM119 620h1v1h-1zM182 620h2v1h-2zM193 620h5v1h-5zM206 620h1v1h-1zM215 620h1v1h-1zM240 620h1v1h-1zM260 620h2v1h-2zM283 620h1v1h-1zM320 620h1v1h-1zM368 620h1v1h-1zM370 620h2v1h-2zM401 620h1v1h-1zM408 620h1v1h-1zM412 620h2v1h-2zM424 620h1v1h-1zM428 620h7v1h-7zM572 620h1v1h-1zM577 620h2v1h-2zM587 620h1v1h-1zM887 620h2v1h-2zM897 620h1v1h-1zM14 621h1v1h-1zM43 621h2v1h-2zM78 621h1v1h-1zM89 621h1v1h-1zM95 621h1v1h-1zM111 621h1v1h-1zM119 621h1v1h-1zM184 621h1v1h-1zM191 621h2v1h-2zM198 621h1v1h-1zM205 621h1v1h-1zM215 621h1v1h-1zM240 621h1v1h-1zM284 621h1v1h-1zM313 621h3v1h-3zM318 621h2v1h-2zM369 621h1v1h-1zM409 621h3v1h-3zM425 621h3v1h-3zM435 621h2v1h-2zM571 621h1v1h-1zM579 621h2v1h-2zM587 621h1v1h-1zM889 621h3v1h-3zM895 621h2v1h-2zM13 622h1v1h-1zM45 622h1v1h-1zM77 622h1v1h-1zM90 622h1v1h-1zM94 622h1v1h-1zM112 622h1v1h-1zM118 622h1v1h-1zM185 622h6v1h-6zM199 622h1v1h-1zM204 622h1v1h-1zM216 622h1v1h-1zM240 622h1v1h-1zM284 622h1v1h-1zM312 622h1v1h-1zM316 622h2v1h-2zM437 622h1v1h-1zM571 622h1v1h-1zM581 622h3v1h-3zM586 622h1v1h-1zM892 622h3v1h-3zM12 623h2v1h-2zM46 623h2v1h-2zM77 623h1v1h-1zM91 623h1v1h-1zM94 623h1v1h-1zM112 623h1v1h-1zM118 623h1v1h-1zM199 623h1v1h-1zM203 623h1v1h-1zM216 623h1v1h-1zM239 623h1v1h-1zM285 623h1v1h-1zM312 623h1v1h-1zM438 623h1v1h-1zM545 623h1v1h-1zM571 623h1v1h-1zM584 623h2v1h-2zM9 624h3v1h-3zM48 624h1v1h-1zM57 624h5v1h-5zM69 624h2v1h-2zM76 624h1v1h-1zM92 624h2v1h-2zM113 624h3v1h-3zM117 624h1v1h-1zM200 624h1v1h-1zM202 624h1v1h-1zM217 624h1v1h-1zM220 624h8v1h-8zM239 624h1v1h-1zM286 624h1v1h-1zM311 624h1v1h-1zM439 624h1v1h-1zM544 624h1v1h-1zM546 624h2v1h-2zM570 624h1v1h-1zM8 625h1v1h-1zM49 625h3v1h-3zM55 625h2v1h-2zM62 625h2v1h-2zM68 625h1v1h-1zM71 625h2v1h-2zM74 625h2v1h-2zM93 625h1v1h-1zM116 625h2v1h-2zM201 625h1v1h-1zM217 625h3v1h-3zM228 625h2v1h-2zM239 625h1v1h-1zM287 625h1v1h-1zM311 625h1v1h-1zM439 625h1v1h-1zM544 625h1v1h-1zM548 625h1v1h-1zM552 625h8v1h-8zM570 625h1v1h-1zM8 626h1v1h-1zM52 626h3v1h-3zM64 626h1v1h-1zM66 626h2v1h-2zM73 626h1v1h-1zM230 626h2v1h-2zM238 626h1v1h-1zM287 626h1v1h-1zM305 626h1v1h-1zM310 626h1v1h-1zM440 626h1v1h-1zM543 626h1v1h-1zM549 626h3v1h-3zM560 626h2v1h-2zM569 626h1v1h-1zM7 627h1v1h-1zM65 627h1v1h-1zM232 627h1v1h-1zM238 627h1v1h-1zM288 627h1v1h-1zM297 627h2v1h-2zM304 627h1v1h-1zM306 627h2v1h-2zM310 627h1v1h-1zM441 627h5v1h-5zM542 627h1v1h-1zM562 627h1v1h-1zM569 627h1v1h-1zM7 628h1v1h-1zM233 628h1v1h-1zM238 628h1v1h-1zM289 628h3v1h-3zM295 628h2v1h-2zM299 628h2v1h-2zM302 628h2v1h-2zM308 628h2v1h-2zM446 628h2v1h-2zM469 628h1v1h-1zM537 628h3v1h-3zM542 628h1v1h-1zM563 628h1v1h-1zM568 628h1v1h-1zM6 629h1v1h-1zM234 629h2v1h-2zM238 629h1v1h-1zM292 629h3v1h-3zM301 629h1v1h-1zM309 629h1v1h-1zM448 629h1v1h-1zM468 629h1v1h-1zM470 629h1v1h-1zM536 629h1v1h-1zM540 629h2v1h-2zM564 629h1v1h-1zM566 629h2v1h-2zM6 630h1v1h-1zM236 630h2v1h-2zM449 630h1v1h-1zM468 630h1v1h-1zM471 630h1v1h-1zM534 630h2v1h-2zM565 630h1v1h-1zM5 631h1v1h-1zM237 631h1v1h-1zM450 631h1v1h-1zM467 631h1v1h-1zM472 631h1v1h-1zM501 631h2v1h-2zM529 631h5v1h-5zM451 632h1v1h-1zM467 632h1v1h-1zM473 632h1v1h-1zM500 632h1v1h-1zM503 632h2v1h-2zM521 632h2v1h-2zM528 632h1v1h-1zM452 633h1v1h-1zM466 633h1v1h-1zM474 633h1v1h-1zM500 633h1v1h-1zM505 633h6v1h-6zM520 633h1v1h-1zM523 633h2v1h-2zM526 633h2v1h-2zM453 634h11v1h-11zM466 634h1v1h-1zM475 634h1v1h-1zM499 634h1v1h-1zM511 634h2v1h-2zM519 634h1v1h-1zM525 634h1v1h-1zM464 635h2v1h-2zM476 635h1v1h-1zM498 635h1v1h-1zM513 635h3v1h-3zM518 635h1v1h-1zM477 636h2v1h-2zM498 636h1v1h-1zM516 636h2v1h-2zM479 637h2v1h-2zM497 637h1v1h-1zM481 638h6v1h-6zM495 638h2v1h-2zM487 639h2v1h-2zM492 639h3v1h-3zM489 640h3v1h-3z" fill="#1e90ff"/>
</g>
<rect x="1168" y="51" width="2" height="1" fill="#000"/>
<rect x="1168" y="117" width="2" height="1" fill="#000"/>
<rect x="1168" y="150" width="2" height="1" fill="#000"/>
<rect x="1168" y="183" width="2" height="1" fill="#000"/>
<rect x="1168" y="216" width="2" height="1" fill="#000"/>
<rect x="1168" y="282" width="2" height="1" fill="#000"/>
<rect x="1168" y="315" width="2" height="1" fill="#000"/>
<rect x="1168" y="348" width="2" height="1" fill="#000"/>
<rect x="1168" y="381" width="2" height="1" fill="#000"/>
<rect x="1168" y="414" width="2" height="1" fill="#000"/>
<rect x="1168" y="480" width="2" height="1" fill="#000"/>
<rect x="1168" y="487" width="1" height="1" fill="#000"/>
<rect x="1168" y="527" width="1" height="1" fill="#000"/>
<rect x="1168" y="568" width="1" height="1" fill="#000"/>
<rect x="1168" y="573" width="1" height="1" fill="#000"/>
<rect x="1168" y="657" width="1" height="1" fill="#000"/>
<rect x="5" y="659" width="1" height="3" fill="#000"/>
<rect x="69" y="659" width="1" height="3" fill="#000"/>
<rect x="133" y="659" width="1" height="3" fill="#000"/>
<rect x="197" y="659" width="1" height="3" fill="#000"/>
<rect x="261" y="659" width="1" height="3" fill="#000"/>
<rect x="325" y="659" width="1" height="3" fill="#000"/>
<rect x="389" y="659" width="1" height="3" fill="#000"/>
<rect x="453" y="659" width="1" height="3" fill="#000"/>
<rect x="517" y="659" width="1" height="3" fill="#000"/>
<rect x="581" y="659" width="1" height="3" fill="#000"/>
<rect x="645" y="659" width="1" height="3" fill="#000"/>
<rect x="709" y="659" width="1" height="3" fill="#000"/>
<rect x="773" y="659" width="1" height="3" fill="#000"/>
<rect x="837" y="659" width="1" height="3" fill="#000"/>
<rect x="901" y="659" width="1" height="3" fill="#000"/>
<rect x="1167" y="83" width="2" height="2" fill="#ff0000"/>
<rect x="1169" y="78" width="38" height="11" fill="#ff0000"/>
<rect x="1167" y="173" width="2" height="2" fill="#00ff00"/>
<rect x="1169" y="168" width="38" height="11" fill="#00ff00"/>
<rect x="1167" y="249" width="2" height="2" fill="#0000ff"/>
<rect x="1169" y="244" width="38" height="11" fill="#0000ff"/>
<rect x="1167" y="339" width="2" height="2" fill="#0000ff"/>
<rect x="1169" y="334" width="38" height="11" fill="#0000ff"/>
<rect x="1167" y="446" width="2" height="2" fill="#0000ff"/>
<rect x="1169" y="441" width="38" height="11" fill="#0000ff"/>
<rect x="1169" y="180" width="38" height="11" fill="#000"/>
<rect x="6" y="25" width="223" height="77" fill="#fff"/>
<defs>
<linearGradient id="gb" x1="0" y1="43" x2="0" y2="100" gradientUnits="userSpaceOnUse"><stop offset="0" stop-color="#5a5aff"/><stop offset="0.42" stop-color="#3434e6"/><stop offset="1" stop-color="#0000ae"/></linearGradient>
<linearGradient id="gs" x1="0" y1="44" x2="0" y2="64" gradientUnits="userSpaceOnUse"><stop offset="0" stop-color="#f2f2f2"/><stop offset="0.45" stop-color="#e6e6e6"/><stop offset="0.5" stop-color="#d4d4d4"/><stop offset="1" stop-color="#cfcfcf"/></linearGradient>
</defs>
<path d="M8 43H60V67H117V100H8z" fill="url(#gb)"/>
<path d="M175 43H227V100H119V67H175z" fill="url(#gb)"/>
<rect x="8" y="43" width="1" height="57" fill="#0000b4" opacity="0.6"/>
<rect x="12" y="67" width="44" height="1" fill="#8c8cf0"/>
<rect x="179" y="67" width="44" height="1" fill="#8c8cf0"/>
<rect x="62.5" y="43.5" width="110" height="21" fill="#fff" stroke="#a8a8a8"/>
<rect x="63" y="44" width="20" height="20" fill="url(#gs)"/>
<rect x="152" y="44" width="20" height="20" fill="url(#gs)"/>
<rect x="83" y="44" width="1" height="20" fill="#b0b0b0"/>
<rect x="151" y="44" width="1" height="20" fill="#b0b0b0"/>
<path d="M70 52h6l-3 3.5z" fill="#4a5fc0"/>
<path d="M159 55.5h6l-3 -3.5z" fill="#4a5fc0"/>
<path d="M11 30h1v1h1v1h1v1h1v1h-7v-1h1v-1h1v-1h1z" fill="#000"/>
<rect x="98" y="685" width="1" height="13" fill="#808080"/>
<rect x="202" y="685" width="1" height="13" fill="#808080"/>
<rect x="498" y="685" width="1" height="13" fill="#808080"/>
<rect x="574" y="685" width="1" height="13" fill="#808080"/>
<rect x="642" y="685" width="1" height="13" fill="#808080"/>
<rect x="718" y="685" width="1" height="13" fill="#808080"/>
<rect x="810" y="685" width="1" height="13" fill="#808080"/>
<rect x="902" y="685" width="1" height="13" fill="#808080"/>
<path d="M1183 690h1v-1h1v-1h1v-1h1v7h-1v-1h-1v-1h-1v-1h-1z" fill="#909090"/>
<path d="M1206 690h-1v-1h-1v-1h-1v-1h-1v7h1v-1h1v-1h1v-1h1z" fill="#909090"/>
<g shape-rendering="auto">
<text transform="translate(1173.22,55) scale(0.9029,1)" font-size="10" font-weight="normal" fill="#000" stroke="#000" stroke-width="0.22">1.29440</text>
<text transform="translate(1173.22,121) scale(0.9029,1)" font-size="10" font-weight="normal" fill="#000" stroke="#000" stroke-width="0.22">1.27960</text>
<text transform="translate(1173.22,154) scale(0.9029,1)" font-size="10" font-weight="normal" fill="#000" stroke="#000" stroke-width="0.22">1.27240</text>
<text transform="translate(1173.22,220) scale(0.9029,1)" font-size="10" font-weight="normal" fill="#000" stroke="#000" stroke-width="0.22">1.25760</text>
<text transform="translate(1173.22,286) scale(0.9029,1)" font-size="10" font-weight="normal" fill="#000" stroke="#000" stroke-width="0.22">1.24280</text>
<text transform="translate(1173.22,319) scale(0.9029,1)" font-size="10" font-weight="normal" fill="#000" stroke="#000" stroke-width="0.22">1.23560</text>
<text transform="translate(1173.22,352) scale(0.9029,1)" font-size="10" font-weight="normal" fill="#000" stroke="#000" stroke-width="0.22">1.22820</text>
<text transform="translate(1173.22,385) scale(0.9029,1)" font-size="10" font-weight="normal" fill="#000" stroke="#000" stroke-width="0.22">1.22080</text>
<text transform="translate(1173.22,418) scale(0.9029,1)" font-size="10" font-weight="normal" fill="#000" stroke="#000" stroke-width="0.22">1.21340</text>
<text transform="translate(1173.22,484) scale(0.9029,1)" font-size="10" font-weight="normal" fill="#000" stroke="#000" stroke-width="0.22">1.19880</text>
<text transform="translate(1170.96,496) scale(0.9439,1)" font-size="10" font-weight="normal" fill="#000" stroke="#000" stroke-width="0.22">0.01135</text>
<text transform="translate(1170.96,531) scale(0.9439,1)" font-size="10" font-weight="normal" fill="#000" stroke="#000" stroke-width="0.22">0.00</text>
<text transform="translate(1170.73,566) scale(0.9439,1)" font-size="10" font-weight="normal" fill="#000" stroke="#000" stroke-width="0.22">-0.01190</text>
<text transform="translate(1170.73,582) scale(0.8968,1)" font-size="10" font-weight="normal" fill="#000" stroke="#000" stroke-width="0.22">100</text>
<text transform="translate(1169.72,602) scale(0.9659,1)" font-size="10" font-weight="normal" fill="#000" stroke="#000" stroke-width="0.22">70</text>
<text transform="translate(1169.72,636) scale(0.9659,1)" font-size="10" font-weight="normal" fill="#000" stroke="#000" stroke-width="0.22">30</text>
<text transform="translate(1171.07,655) scale(0.9400,1)" font-size="10" font-weight="normal" fill="#000" stroke="#000" stroke-width="0.22">0</text>
<text transform="translate(4.11,670.6) scale(0.9135,1)" font-size="10" font-weight="normal" fill="#000" stroke="#000" stroke-width="0.22">17 Dec 2020</text>
<text transform="translate(68.34,670.6) scale(0.9135,1)" font-size="10" font-weight="normal" fill="#000" stroke="#000" stroke-width="0.22">7 Jan 2021</text>
<text transform="translate(132.34,670.6) scale(0.9135,1)" font-size="10" font-weight="normal" fill="#000" stroke="#000" stroke-width="0.22">26 Jan 2021</text>
<text transform="translate(196.11,670.6) scale(0.9135,1)" font-size="10" font-weight="normal" fill="#000" stroke="#000" stroke-width="0.22">13 Feb 2021</text>
<text transform="translate(260.57,670.6) scale(0.9135,1)" font-size="10" font-weight="normal" fill="#000" stroke="#000" stroke-width="0.22">4 Mar 2021</text>
<text transform="translate(324.34,670.6) scale(0.9135,1)" font-size="10" font-weight="normal" fill="#000" stroke="#000" stroke-width="0.22">23 Mar 2021</text>
<text transform="translate(388.11,670.6) scale(0.9135,1)" font-size="10" font-weight="normal" fill="#000" stroke="#000" stroke-width="0.22">10 Apr 2021</text>
<text transform="translate(452.34,670.6) scale(0.9135,1)" font-size="10" font-weight="normal" fill="#000" stroke="#000" stroke-width="0.22">29 Apr 2021</text>
<text transform="translate(516.11,670.6) scale(0.9135,1)" font-size="10" font-weight="normal" fill="#000" stroke="#000" stroke-width="0.22">18 May 2021</text>
<text transform="translate(580.34,670.6) scale(0.9135,1)" font-size="10" font-weight="normal" fill="#000" stroke="#000" stroke-width="0.22">5 Jun 2021</text>
<text transform="translate(644.34,670.6) scale(0.9135,1)" font-size="10" font-weight="normal" fill="#000" stroke="#000" stroke-width="0.22">24 Jun 2021</text>
<text transform="translate(708.11,670.6) scale(0.9135,1)" font-size="10" font-weight="normal" fill="#000" stroke="#000" stroke-width="0.22">13 Jul 2021</text>
<text transform="translate(772.34,670.6) scale(0.9135,1)" font-size="10" font-weight="normal" fill="#000" stroke="#000" stroke-width="0.22">31 Jul 2021</text>
<text transform="translate(836.11,670.6) scale(0.9135,1)" font-size="10" font-weight="normal" fill="#000" stroke="#000" stroke-width="0.22">19 Aug 2021</text>
<text transform="translate(900.34,670.6) scale(0.9135,1)" font-size="10" font-weight="normal" fill="#000" stroke="#000" stroke-width="0.22">7 Sep 2021</text>
<text transform="translate(1173.22,87) scale(0.9029,1)" font-size="10" font-weight="normal" fill="#fff" stroke="#fff" stroke-width="0.22">1.28700</text>
<text transform="translate(1173.22,177) scale(0.9029,1)" font-size="10" font-weight="normal" fill="#fff" stroke="#fff" stroke-width="0.22">1.26700</text>
<text transform="translate(1173.22,253) scale(0.9029,1)" font-size="10" font-weight="normal" fill="#fff" stroke="#fff" stroke-width="0.22">1.25003</text>
<text transform="translate(1173.22,343) scale(0.9029,1)" font-size="10" font-weight="normal" fill="#fff" stroke="#fff" stroke-width="0.22">1.23003</text>
<text transform="translate(1173.22,450) scale(0.9029,1)" font-size="10" font-weight="normal" fill="#fff" stroke="#fff" stroke-width="0.22">1.20609</text>
<text transform="translate(1173.22,189.5) scale(0.9029,1)" font-size="10" font-weight="normal" fill="#fff" stroke="#fff" stroke-width="0.22">1.26458</text>
<text transform="translate(19.97,59) scale(0.8571,1)" font-size="12.5" font-weight="normal" fill="#fff" stroke="#fff" stroke-width="0">SELL</text>
<text transform="translate(187.54,59) scale(0.9649,1)" font-size="12.5" font-weight="normal" fill="#fff" stroke="#fff" stroke-width="0">BUY</text>
<text transform="translate(123.88,58) scale(1.0400,1)" font-size="12" font-weight="normal" fill="#000" stroke="#000" stroke-width="0.1">3.00</text>
<text transform="translate(27.74,95) scale(1.0108,1)" font-size="12.5" font-weight="bold" fill="#fff" stroke="#fff" stroke-width="0">1.26</text>
<text transform="translate(137.84,95) scale(1.0151,1)" font-size="12.5" font-weight="bold" fill="#fff" stroke="#fff" stroke-width="0">1.26</text>
<text x="53.95" y="94.6" textLength="38.43" lengthAdjust="spacingAndGlyphs" font-size="34.5" font-weight="normal" fill="#fff" stroke="url(#gb)" stroke-width="0.7">46</text>
<text x="164.97" y="94.6" textLength="37.10" lengthAdjust="spacingAndGlyphs" font-size="34.5" font-weight="normal" fill="#fff" stroke="url(#gb)" stroke-width="0.7">47</text>
<text transform="translate(95.75,79) scale(1.0000,1)" font-size="12.5" font-weight="bold" fill="#fff" stroke="#fff" stroke-width="0">1</text>
<text transform="translate(205.45,79) scale(1.1040,1)" font-size="12.5" font-weight="bold" fill="#fff" stroke="#fff" stroke-width="0">5</text>
<text transform="translate(19.67,35) scale(0.9714,1)" font-size="10" font-weight="normal" fill="#000" stroke="#000" stroke-width="0.22">USDCAD,Daily</text>
<text transform="translate(92.00,35) scale(0.9314,1)" font-size="10" font-weight="normal" fill="#000" stroke="#000" stroke-width="0.22">1.26420</text>
<text transform="translate(128.00,35) scale(0.9314,1)" font-size="10" font-weight="normal" fill="#000" stroke="#000" stroke-width="0.22">1.26796</text>
<text transform="translate(164.31,35) scale(0.9229,1)" font-size="10" font-weight="normal" fill="#000" stroke="#000" stroke-width="0.22">1.26402</text>
<text transform="translate(200.31,35) scale(0.9229,1)" font-size="10" font-weight="normal" fill="#000" stroke="#000" stroke-width="0.22">1.26458</text>
<text transform="translate(8.70,498) scale(0.9386,1)" font-size="10" font-weight="normal" fill="#000" stroke="#000" stroke-width="0.22">MACD(12,26,9) 0.001348 0.000510</text>
<text transform="translate(8.70,584) scale(0.9356,1)" font-size="10" font-weight="normal" fill="#000" stroke="#000" stroke-width="0.22">RSI(14) 53.8316</text>
<text transform="translate(17.67,696) scale(0.9269,1)" font-size="12.8" font-weight="normal" fill="#6a6a6a" stroke="#6a6a6a" stroke-width="0">EURUSD,H4</text>
<text transform="translate(109.40,696) scale(0.9477,1)" font-size="12.8" font-weight="normal" fill="#6a6a6a" stroke="#6a6a6a" stroke-width="0">AUDUSD,Daily</text>
<text transform="translate(211.76,696) scale(0.9404,1)" font-size="12.8" font-weight="normal" fill="#6a6a6a" stroke="#6a6a6a" stroke-width="0">USDCHF,H4</text>
<text transform="translate(300.86,696) scale(0.9424,1)" font-size="12.8" font-weight="normal" fill="#000" stroke="#000" stroke-width="0.1">USDCAD,Daily</text>
<text transform="translate(403.64,696) scale(0.9598,1)" font-size="12.8" font-weight="normal" fill="#6a6a6a" stroke="#6a6a6a" stroke-width="0">USDCNH,Daily</text>
<text transform="translate(509.41,696) scale(0.9874,1)" font-size="12.8" font-weight="normal" fill="#6a6a6a" stroke="#6a6a6a" stroke-width="0">UKOil,H1</text>
<text transform="translate(583.65,696) scale(0.9513,1)" font-size="12.8" font-weight="normal" fill="#6a6a6a" stroke="#6a6a6a" stroke-width="0">DJ30,H1</text>
<text transform="translate(653.55,696) scale(0.9519,1)" font-size="12.8" font-weight="normal" fill="#6a6a6a" stroke="#6a6a6a" stroke-width="0">USDX,H1</text>
<text transform="translate(728.86,696) scale(0.9457,1)" font-size="12.8" font-weight="normal" fill="#6a6a6a" stroke="#6a6a6a" stroke-width="0">XAUUSD,H4</text>
<text transform="translate(822.24,696) scale(0.9155,1)" font-size="12.8" font-weight="normal" fill="#6a6a6a" stroke="#6a6a6a" stroke-width="0">GBPUSD,H1</text>
<text transform="translate(15.78,11) scale(0.9589,1)" font-size="10" font-weight="normal" fill="#3c3c3c" stroke="#3c3c3c" stroke-width="0">M30</text>
<text transform="translate(46.75,11) scale(1.0000,1)" font-size="10" font-weight="normal" fill="#3c3c3c" stroke="#3c3c3c" stroke-width="0">H1</text>
<text transform="translate(74.23,11) scale(1.0213,1)" font-size="10" font-weight="normal" fill="#3c3c3c" stroke="#3c3c3c" stroke-width="0">H4</text>
<text transform="translate(102.94,11) scale(1.0087,1)" font-size="10" font-weight="normal" fill="#3c3c3c" stroke="#3c3c3c" stroke-width="0">D1</text>
<text transform="translate(131.00,11) scale(0.9655,1)" font-size="10" font-weight="normal" fill="#3c3c3c" stroke="#3c3c3c" stroke-width="0">W1</text>
<text transform="translate(157.25,11) scale(1.0000,1)" font-size="10" font-weight="normal" fill="#3c3c3c" stroke="#3c3c3c" stroke-width="0">MN</text>
<text transform="translate(-4.02,11) scale(0.9589,1)" font-size="10" font-weight="normal" fill="#3c3c3c" stroke="#3c3c3c" stroke-width="0">15</text>
</g>
</svg>
</body></html>
